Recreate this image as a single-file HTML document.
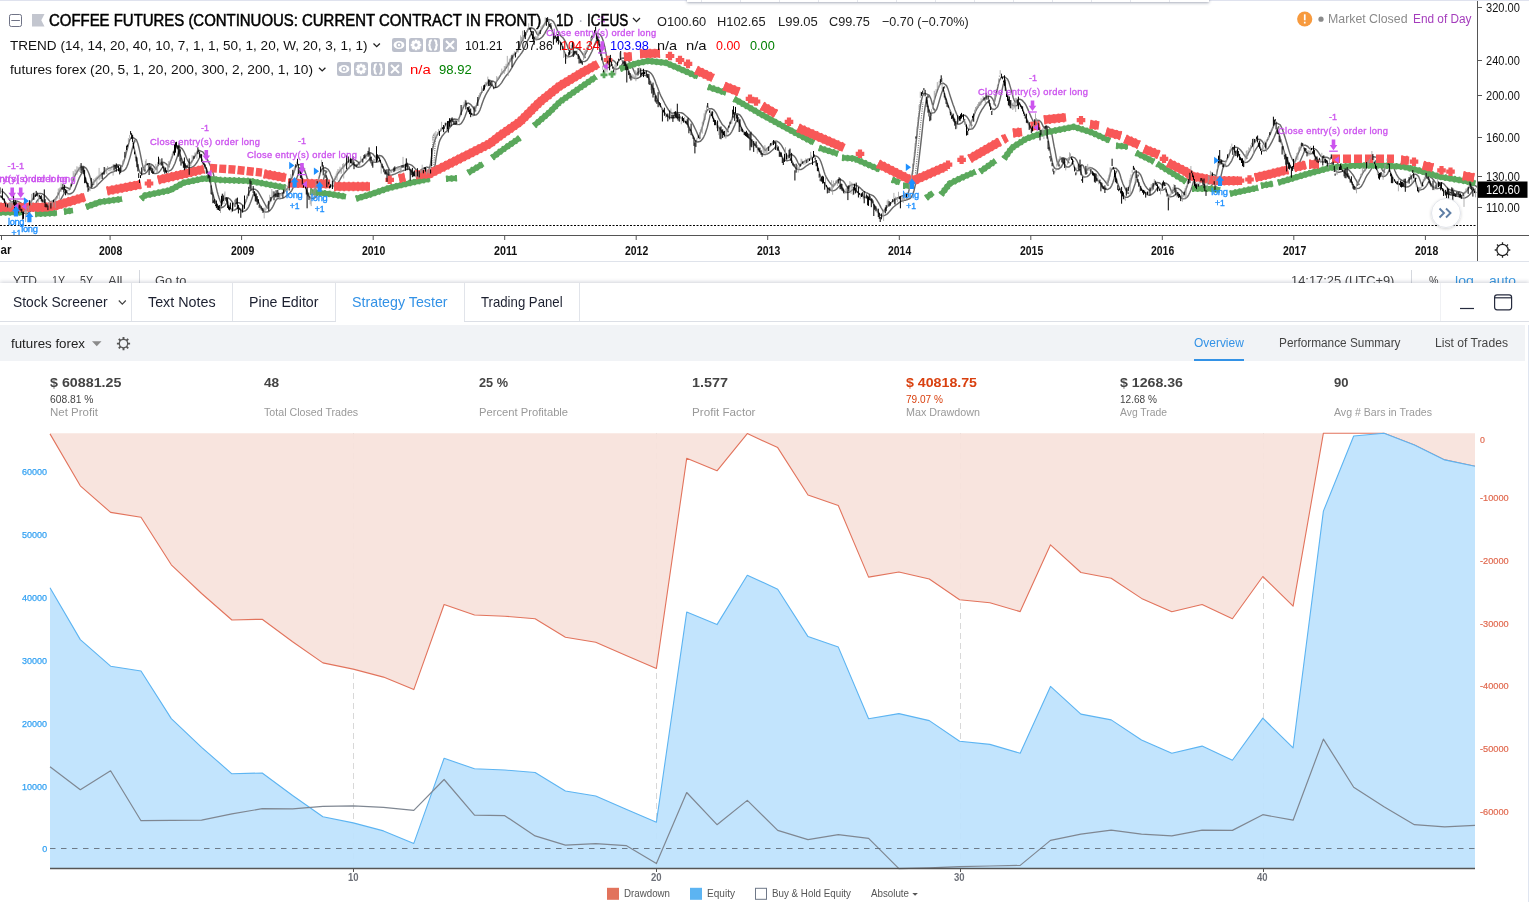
<!DOCTYPE html>
<html><head><meta charset="utf-8"><title>Coffee Futures - Strategy Tester</title>
<style>
html,body{margin:0;padding:0;background:#fff;}
body{width:1529px;height:902px;overflow:hidden;position:relative;font-family:"Liberation Sans", sans-serif;}
.t{position:absolute;white-space:pre;display:block;}
#top{position:absolute;left:0;top:0;width:1529px;height:283px;overflow:hidden;background:#fff;}
#topline{position:absolute;left:0;top:0;width:1529px;height:1px;background:#dfe2ee;}
#topbox{position:absolute;left:687px;top:-6px;width:522px;height:8px;background:#fff;box-shadow:0 1px 3px rgba(60,70,100,.45);}
#topbox i{position:absolute;top:0;width:1px;height:8px;background:#e4e6ec;}
#panel{position:absolute;left:0;top:283px;width:1529px;height:619px;background:#fff;box-shadow:0 -1px 4px rgba(40,50,80,.22);}
#tabs{position:absolute;left:0;top:0;width:1529px;height:38px;border-bottom:1px solid #dcdfe6;}
#tabs b{position:absolute;top:0;height:38px;width:1px;background:#e1e4ea;}
#act{position:absolute;left:336px;top:0;width:128px;height:40px;background:#fff;}
#hdr{position:absolute;left:0;top:42px;width:1525px;height:36px;background:#f1f3f6;}
#ovl{position:absolute;left:1194px;top:76px;width:50px;height:2px;background:#3392e6;}
#redge{position:absolute;left:1528px;top:42px;width:1px;height:577px;background:#dfe5f0;}
</style></head><body>
<div id="top">
<svg id="topsvg" width="1529" height="283" viewBox="0 0 1529 283" style="position:absolute;left:0;top:0" font-family='"Liberation Sans", sans-serif' font-weight="400">
<defs><clipPath id="cp"><rect x="0" y="0" width="1477" height="235"/></clipPath></defs>
<g clip-path="url(#cp)">
<path d="M0 225.5H1477" stroke="#000" stroke-width="1" stroke-dasharray="2 1.5"/>
<path d="M1.6 191.3L2.9 191.8L4.1 192.7L5.4 194L6.6 195.4L7.7 196.9L8.7 198.6L9.7 200.2L10.7 201.4L11.4 202L12 202.1L12.4 202L12.9 201.6L13.6 201.2L14.6 200.9L15.8 201L17.1 201.3L18.5 201.7L19.8 202.3L21.1 203.1L22.3 204.2L23.5 205.5L24.5 206.8L25.5 208L26.4 209L27 209.2L27.1 208.8L27.2 208.3L27.5 207.7L28.1 206.9L28.9 205.7L29.8 204.2L30.8 202.4L31.7 200.6L32.8 198.7L33.8 197.2L34.9 196L36.1 194.9L37.4 194L38.9 193.5L40.6 193.4L42.4 193.9L43.9 194.9L45.3 196L46.4 197.2L47.5 198.6L48.6 199.8L49.5 200.9L50.4 201.8L51.1 202.2L51.6 202.1L51.9 201.8L52.3 201.4L52.9 200.9L53.6 200.4L54.4 199.8L55.2 199L56 198L56.9 196.8L57.8 195.1L58.7 193.3L59.7 191.2L60.8 189.5L62 188.3L63.5 187.4L65.3 187.1L67.2 187.7L68.6 188.5L69.5 189.2L69.9 189.2L69.9 188.9L70.1 188.2L70.8 186.8L71.7 184.4L72.6 181.8L73.6 179.1L74.6 176.5L75.6 174.3L76.7 172.5L77.7 170.9L78.8 169.3L80 167.8L81.5 166.5L83.9 166.5L86.3 168.3L87.8 171L89 173.7L90 176.8L91 180.1L92 182.9L92.9 184.4L93.6 184.5L93.7 183.9L93.5 183.1L93.7 182.4L94.3 181.6L95.2 180.5L96.1 179.5L97.1 178.5L98.1 177.5L99.1 176.5L100.1 175.5L101.2 174.6L102.1 173.7L103.1 172.8L104.2 171.7L105.2 170.7L106.3 169.9L107.4 169L108.6 168.4L109.7 168L110.8 167.7L111.8 167.2L112.8 166.7L113.8 166.1L114.9 165.7L116 165.3L117.4 164.9L118.7 165L120.2 165.3L121.4 165.9L122 166.4L122.1 166.3L122.2 165.7L122.8 164.2L123.6 161.9L124.6 158.9L125.5 155.6L126.5 152L127.5 148.3L128.5 144.4L129.5 140.4L130.7 138.1L132.8 137.3L136.5 139.9L138 144L139.1 148.3L140.1 152.9L141.1 157.8L142.1 162.9L143.1 167.3L144.1 170L144.9 171.2L145.3 170.4L144.4 168.8L144.3 167.7L145.1 166L146.1 164.7L147.6 163.9L149.4 163.7L151.5 164.4L153.2 165.6L154.4 167.2L155.4 168.6L156.2 169.3L156.5 169L156.4 168.5L156.5 168L157.1 166.9L158 165.5L159 164.1L160.3 162.9L161.9 162.2L164 162.4L165.8 163.5L167.2 165L168.3 166.2L168.9 166.8L169 166.4L168.7 165.9L169 165.1L169.8 163.3L170.6 161.1L171.6 158.4L172.6 155.8L173.6 152.8L174.6 149.7L175.7 147.8L177.3 146.9L179.9 147L182.3 148.9L183.8 151.3L184.9 153.8L186 156.4L187 159L187.9 160.9L188.9 162.4L189.7 163.2L190.4 163.5L190.8 163.4L190.9 163L191 162.5L191.4 161.9L192.1 161.1L192.9 159.8L193.8 158.1L194.8 156.5L195.8 154.7L196.9 152.8L198.2 151.3L200.2 150.8L202.8 151.9L204.5 154.2L205.8 156.4L206.9 158.6L207.9 160.6L208.9 162.7L210 165L211 167.2L212 169.5L213.1 172.9L214.1 177.1L215.1 181.8L216.1 186.8L217.1 191.2L218.1 194.9L219.1 198L220.1 200.8L221 203L221.8 204L222.4 203.8L222.3 203L221.9 202.3L222.3 201.5L223.1 200L224.2 198.6L225.7 197.7L227.8 197.7L229.9 199L231.5 200.9L232.7 202.6L233.7 204.3L234.6 205.9L235.1 206.2L234.9 205.3L234.9 204.1L235.7 203.2L237.1 202.6L238.8 202.7L240.6 203.5L242.1 204.7L243.2 205.9L244 206.7L244.3 206.7L244.1 206.1L244.2 205.4L244.8 203.9L245.7 201.8L246.6 199.3L247.6 196.6L248.6 193.5L249.7 191.3L250.9 189.9L252.5 189.1L254.8 189.2L257 190.5L258.5 192.3L259.7 194.3L260.8 196.3L261.9 198.3L262.9 200.3L263.9 202.2L264.9 204L265.9 205.8L266.8 207.5L267.5 208.1L267.8 207.7L267.5 207L267.5 206.3L268 205.3L268.8 203.9L269.7 202L270.7 199.8L271.7 197.8L272.9 196.4L274.1 195.4L275.4 194.6L276.7 194.1L278.1 193.8L279.3 193.7L280.4 193.7L281.3 193.6L282 193.2L282.7 192.8L283.5 192.2L284.4 191.3L285.3 190.5L286.1 189.8L287 189L287.8 187.6L288.7 185.8L289.6 183.6L290.6 181.2L291.6 178.6L292.6 175.9L293.5 173.1L294.6 170.3L295.6 167.3L296.8 165.4L298.6 164.4L301.7 165.3L303.7 168.2L305 171.5L306 174.5L307 177.5L308.1 180.3L309 182.9L310 185.7L311 188.3L312 190.9L313 193.4L313.8 194.8L314.4 194.7L313.9 193.7L313.4 192.8L313.9 191.5L314.7 189.6L315.6 187.6L316.6 185.4L317.6 182.7L318.5 179.6L319.5 176L320.5 172.3L321.6 169.8L322.9 168.3L325.1 167.6L328.1 169.3L329.8 172.1L330.9 175L332 177.6L333 180.1L333.9 181.7L334.6 182.3L334.8 181.8L334.3 180.9L334.3 180.3L335 178.9L335.8 177.3L336.8 175.6L337.8 173.7L338.8 172.2L339.9 171.1L340.9 169.8L341.9 168.5L342.9 167.3L344 166.1L345 165L346 163.7L347.1 162.7L348.1 161.9L349.3 160.8L350.5 159.8L352 159.3L353.8 159.4L355.5 160.1L356.9 161.1L357.9 161.8L358.8 162.3L359.4 162.5L359.8 162.3L360.2 161.9L360.7 161.4L361.4 160.7L362.2 159.8L363.1 158.8L364.1 157.8L365.1 156.8L366.1 155.8L367.1 154.6L368.5 153.2L370.4 152.7L372.7 153.8L374.3 155.9L375.4 157.4L376.2 158L376.6 157.8L376.7 157.4L377.1 156.9L378 156L379.5 155.5L381.5 155.9L383.3 157.6L384.7 159.7L385.9 162L386.9 164.4L387.9 166.6L388.9 168.6L389.8 170L390.6 170.7L391.2 170.9L391.6 170.7L391.9 170.3L392.4 169.7L393.1 169.5L394 169.2L394.9 168.8L395.8 168.2L396.8 167.7L397.9 167.3L399 166.9L400 166.6L401 166.3L402 166L403 165.6L404 165.2L405 164.9L406.1 164.5L407.4 164.2L408.8 164.1L410.4 164.6L411.9 165.4L413.2 166.5L414.4 167.8L415.5 169.1L416.5 170.3L417.4 171.2L418.1 171.6L418.6 171.5L419 171.1L419.4 170.9L420 170.5L420.8 170L421.7 169.4L422.7 168.8L423.7 168.2L424.9 167.7L426.2 167.4L427.5 167.3L428.9 167.5L429.7 167.7L429.4 168.3L429.7 168.1L430.5 163.7L431.5 156.9L432.4 150.4L433.4 145.4L434.5 141.4L435.5 138.4L436.5 136.2L437.6 134.3L438.7 132.8L439.8 131.4L440.9 130.1L442 129L443 128L444 127L445 125.9L446 124.6L447 123.4L448.1 122.2L449.2 121.2L450.4 120.4L451.6 119.8L453 119.2L454.3 119L455.8 119.2L457 119.4L457.9 119.6L458.3 119.9L458.5 119.5L459 118.4L459.7 116.6L460.6 114.4L461.6 111.8L462.6 109.2L463.6 106.7L464.7 104.5L466.2 103.3L468.5 103.1L470.9 104.7L472.5 106.7L473.7 108.5L474.7 110.1L475.4 111L475.7 110.8L475.1 110.1L475.1 109.3L475.7 107.6L476.6 105.1L477.6 102.3L478.6 99.4L479.6 96.9L480.6 94.5L481.6 92.3L482.7 90.4L483.7 88.7L484.7 87L485.8 85.2L486.8 83.7L488 82.2L489.3 81.2L491.1 80.9L493 81.1L494.5 82L495.5 82.9L495.9 82.8L496.1 82.4L496.4 81.7L497.1 80.7L497.9 79.5L498.9 78.1L499.8 76.5L500.8 74.9L501.8 73.4L502.9 72.1L503.9 71L504.9 69.7L505.8 68.3L506.8 66.8L507.8 65.2L508.7 63.4L509.7 61.7L510.7 59.9L511.7 58.2L512.8 56.7L513.8 55.1L514.9 54L515.9 52.7L516.9 51.4L517.8 50L518.7 48.6L519.7 46.5L520.6 44.1L521.6 41.8L522.6 39.7L523.7 37.9L524.7 36.1L525.7 34.2L526.7 32.1L527.8 29.8L529 28.3L531 27.7L533.8 28.7L535.5 30.8L536.7 33.3L537.7 34.8L538.4 35.1L538.7 35L538.7 34.5L538.8 33.8L539.2 33.2L540 32.1L540.8 30.6L541.8 28.8L542.7 27.1L543.7 25.5L544.8 23.6L545.8 21.9L547.1 20.4L548.7 19.5L551.2 19.9L553.4 21.6L554.8 24.2L555.9 26.7L557 29.5L557.9 31.7L558.9 33.2L559.8 34.4L560.7 35.7L561.7 36.7L562.7 37.5L563.7 38.8L564.8 40.5L565.9 42.5L567 45.1L568 47.9L569 50.4L569.9 52.3L570.7 52.9L570.9 52.4L570.3 51.5L570.4 50.7L571.2 48.9L572.4 47.8L574 47.6L575.8 47.9L577.5 48.5L579 49.3L580.4 50.6L581.6 52.2L582.7 54L583.7 55.6L584.6 57.2L585.2 57.5L584.9 56.8L584.5 56L585 54.7L585.8 53.1L586.7 51.2L587.6 49.2L588.6 46.8L589.6 44.4L590.6 41.9L591.6 39.6L592.6 37.5L593.7 35.2L595 33.7L597.1 33.1L600 34.4L601.8 37.1L603 40.3L604.1 44.2L605.1 48.7L606.1 54L607.1 59.3L608.1 62.8L609 64.9L609.7 64.7L609.2 62.9L608.9 61.3L609.7 60.2L611.4 59.9L613.5 60.5L615.2 62.1L616.4 63.9L617.2 64.9L617.5 64.7L617.3 64L617.4 63.3L618.1 62.1L619 60.5L620.1 59.3L621.5 58.4L623.2 58L625.1 58.5L626.8 59.4L628.3 60.5L629.6 62.1L630.8 63.9L631.9 66.1L633 68.7L634 71.3L634.9 73.2L635.7 74.3L636.4 74.3L636.8 73.9L637 73.7L637.3 73.3L637.8 72.8L638.6 71.9L639.6 71.1L640.8 70.6L642.2 70.4L643.6 70.4L644.9 70.6L646.1 70.9L647.4 71L648.7 71.6L650.1 72.6L651.5 73.8L652.7 75.7L653.9 78L655 80.6L656 83.4L657 86L658 88.5L659 91.2L660 93.8L661 96.1L662 98.1L663 100L663.9 101.8L664.9 103.8L665.9 105.6L666.9 107.3L667.9 109L668.8 110.4L669.7 111.5L670.6 112.3L671.4 113L672 113.2L672.6 113.1L673.2 113L673.9 113L674.7 112.8L675.6 112.7L676.6 112.5L677.7 112.5L678.8 112.6L680 112.6L681.3 112.7L682.6 113.2L684 114.2L685.2 115.2L686.3 116.3L687.4 117.3L688.4 118.2L689.5 119.2L690.6 120.6L691.7 122.2L692.8 124L693.9 126.1L694.9 128.2L696 130.5L697 132.8L698 135.3L698.9 137.6L699.7 138.4L699.8 137.7L699.1 136.7L699.1 135.7L699.8 134.2L700.6 132.2L701.6 129.5L702.5 126.4L703.5 122.7L704.5 118.5L705.5 114.3L706.5 111.3L707.7 109.6L709.1 108.8L711.6 108.6L714 110L715.6 112.1L716.8 114.2L717.9 116.5L718.9 118.7L719.9 120.5L720.9 122.1L721.8 123.7L722.8 125L723.7 125.8L724.7 126.8L725.7 128.2L726.7 129.6L727.6 131.3L728.2 131.8L727.9 131L727.5 130.2L727.9 128.9L728.7 127L729.6 124.8L730.6 122.6L731.6 120.1L732.7 118L733.8 116.1L735.1 114.4L737 113.8L739.7 114.8L741.5 117L742.8 119.3L743.9 121.6L744.9 123.9L745.9 126.1L746.9 127.9L747.9 129.4L748.8 130.5L749.7 131.7L750.6 132.7L751.6 133.7L752.5 134.6L753.5 135.6L754.5 136.5L755.6 137.6L756.6 139L757.7 140.2L758.7 141.6L759.7 143L760.7 144.1L761.7 145.5L762.7 146.9L763.7 148.4L764.6 149.7L765.4 150.4L765.8 150.1L766 149.7L766.2 149.3L766.8 148.7L767.5 148.1L768.4 147.3L769.3 146.6L770.2 145.7L771.1 144.8L772.1 143.5L773.2 142L774.7 141.2L776.7 141.2L778.8 142.3L780.4 143.9L781.7 145.7L782.8 147.6L783.9 149.5L784.9 151.6L785.9 153.5L786.8 155.4L787.7 156.4L788.3 156.6L788.6 156.1L788.8 155.6L789.4 155.1L790.6 154.6L792.3 154.8L794.1 156L795.6 157.9L796.8 160.1L797.9 162.5L798.8 164.3L799.7 165.3L800.3 165.5L800.6 165.1L800.7 164.7L801.1 164.2L801.7 163.6L802.5 162.9L803.4 162.1L804.4 161.4L805.5 160.8L806.6 160.1L807.7 159.5L808.7 159.1L809.8 158.7L810.8 158.2L811.8 157.8L812.7 157.4L814 156.6L815.7 155.9L817.8 156.9L819.6 159L820.9 161.7L822 164.9L823.1 168.5L824.1 171.8L825 174.5L826 176.6L827 178.3L827.9 180L828.9 181.4L829.8 182.6L830.7 183.8L831.7 184.9L832.5 185.9L833.2 186.3L833.6 186.2L833.7 185.8L833.9 185.3L834.5 184.6L835.2 183.7L836.1 182.7L837.1 181.4L838.5 180.1L840.3 179.5L842.7 180.6L844.5 182.5L845.7 184.6L846.7 186.6L847.7 187.9L848.4 188.3L848.7 188L848.6 187.5L848.9 186.8L849.6 186L850.6 185.3L852 184.7L853.5 184.5L855 184.9L856.5 185.5L857.9 186.2L859.1 187.1L860.3 188.1L861.3 189.1L862.4 190.1L863.4 191L864.3 191.7L865.2 192.2L866 192.7L866.9 193L867.8 193.3L868.8 193.8L869.8 194.3L870.8 194.8L871.8 195.1L873 195.6L874.3 196.7L875.5 198.1L876.7 199.8L877.8 201.7L878.9 203.5L879.9 205.4L880.9 207.3L881.9 209L882.8 210.7L883.6 211.6L884.1 211.6L884.2 211.1L884.3 210.5L884.6 209.9L885.3 209.2L886.1 208.1L887 207L888 205.8L889.1 204.7L890.1 203.7L891.1 202.7L892.2 201.8L893.3 200.9L894.3 200.2L895.4 199.5L896.4 198.8L897.4 197.9L898.6 197.3L899.7 196.7L900.9 196.4L902.1 196L903.1 195.7L904.2 195.7L905.1 195.3L906.1 194.9L906.8 194.7L907.3 194.6L907.9 193.6L908.6 191.7L909.5 188.6L910.5 184.6L911.4 179.3L912.4 172.7L913.4 165.3L914.4 157.1L915.4 148.4L916.4 139.6L917.4 130.5L918.4 121L919.4 112.5L920.4 105.8L921.4 100.6L922.5 96.1L923.6 93.9L925.2 93.3L929.1 95.1L930.9 98.9L932 102.8L933.1 107.2L934 109.8L934.6 110L933.2 108L932.8 106.3L933.6 103.3L934.5 99.9L935.5 96.4L936.5 93.2L937.5 90.2L938.6 87.5L939.7 84.9L941 83.6L943.6 83.3L946.5 85.6L947.9 88.7L949 92.1L950.1 95.7L951.1 98.8L952.1 101.8L953.1 104.7L954.1 107.3L955 109.9L956 112.4L957 114.8L958 117L958.9 119.1L959.8 120.4L960.3 120.4L960 119.3L959.7 118.5L960.3 117.5L961.4 116L962.9 115.1L965.2 115.4L967.3 117.3L968.8 119.6L969.9 122L970.9 124.5L971.7 125.7L971.8 125.1L971 124.1L971 123L971.7 121.3L972.6 118.9L973.6 116.2L974.6 113.6L975.6 111.3L976.6 109.2L977.7 107.4L978.7 105.8L979.8 104.2L980.8 102.6L981.9 101.3L982.9 100L984 98.8L985.1 97.8L986.5 96.9L988.2 96L990.6 96.6L992.6 98.8L993.8 101.5L994.9 104.6L995.6 105.8L995 104.7L994 103.5L994.6 100.9L995.5 97.3L996.5 93.1L997.5 88.5L998.5 83.9L999.5 80.4L1000.6 78.3L1002 77L1004.6 76.8L1007.5 79L1008.9 82.1L1010 85.9L1011.1 89.6L1012.1 93.4L1013.1 97.2L1014.1 100.1L1015 101.8L1015.7 102.1L1016.2 101.7L1016.4 101.2L1016.5 100.8L1017.1 100.2L1018.2 99.4L1019.7 99.2L1021.6 99.9L1023.2 101.4L1024.6 103L1025.8 104.9L1026.9 107.1L1028 109.6L1029 112L1030 114.3L1031 116.6L1032 118.8L1033 120.9L1033.9 123.2L1034.8 125L1035.3 125L1034.8 123.8L1034.6 122.8L1035.4 121L1036.9 120.1L1039.4 120.5L1041.4 122.6L1042.7 125.4L1043.7 127.3L1044.5 127.8L1044.9 127.4L1045.2 127L1046 126.8L1047.6 126.4L1049.5 127.8L1051 131L1052.1 135.4L1053.1 140.8L1054.1 146.4L1055.2 151.7L1056.1 156.8L1057.1 161.6L1058.1 164.8L1059 166.1L1059.5 165.7L1058.8 164.1L1058.3 163.1L1059 161.3L1059.9 159.5L1061.2 158.3L1063.1 157.8L1065.6 158.6L1067.2 160.2L1068.3 162.1L1068.9 162.7L1068.5 162.1L1068.3 161.2L1069.1 159.1L1070.2 157.5L1072.1 156.8L1074.8 157.9L1076.6 160.3L1077.8 162.8L1078.9 165.5L1079.7 167L1080.2 166.9L1080.4 166L1081.7 164.7L1083.4 165.9L1084.8 169.6L1085.8 172.4L1086.7 173.4L1087 172.9L1086.4 171.9L1086.5 171.1L1087.2 169.7L1088.3 168.5L1089.8 167.8L1091.7 167.9L1093.5 168.8L1095 169.8L1096.3 170.9L1097.5 172.1L1098.6 173.6L1099.6 175L1100.7 176.3L1101.6 177.4L1102.6 178.5L1103.6 179.6L1104.7 180.9L1105.7 182.2L1106.7 183.5L1107.5 184.9L1108.1 185.3L1107.8 184.7L1107.3 184L1107.8 182.7L1108.6 180.3L1109.5 176.8L1110.5 172.6L1111.6 169.6L1112.9 168.3L1115.8 168.1L1118.6 171L1120 174.5L1121 178.2L1122.1 181.4L1123 184L1124 186.2L1125 188.1L1125.9 189.8L1126.9 191.6L1127.7 193.1L1128.3 193.4L1127.8 192.4L1127.3 191.6L1127.8 190.2L1128.6 188L1129.6 185.3L1130.5 182.1L1131.5 178.7L1132.6 175.1L1133.7 172.8L1135.2 171.7L1138.2 172.1L1140.6 174.7L1141.9 177.7L1143 180.9L1144 183.4L1145 185.3L1145.9 186.8L1146.8 187.9L1147.7 188.9L1148.6 189.8L1149.4 190.6L1149.9 190.7L1150.2 190.4L1150.3 190L1150.6 189.5L1151.2 188.6L1152 187.4L1152.9 186L1154 184.4L1155.2 183.3L1156.8 182.5L1158.9 182.7L1160.7 183.7L1161.9 185.1L1162.7 185.7L1162.9 185.3L1163.2 184.8L1164.1 183.6L1165.8 183.1L1168.1 184.5L1169.7 186.9L1170.9 190L1171.8 192.2L1172.6 193.1L1172.9 192.6L1172.6 191.7L1172.7 190.9L1173.4 189.8L1174.5 188.8L1176.1 188.2L1178 188.4L1179.8 189.5L1181.3 190.9L1182.4 192.2L1183.5 193.3L1184.3 194.3L1184.7 194.5L1184.4 193.9L1184.3 193.2L1184.9 191.9L1185.7 190L1186.6 187.8L1187.5 184.9L1188.5 181.4L1189.5 177.5L1190.6 175.1L1192 174L1194.9 173.9L1197.4 176.4L1198.7 179.4L1199.7 181.1L1200.6 181.9L1201 181.8L1201 181.4L1201.2 180.7L1202 179.6L1203.4 179.1L1205.6 179.7L1207.2 181.3L1208.3 183.3L1209 183.9L1208.6 183.3L1208.3 182.5L1208.8 181L1209.7 178.7L1210.8 176L1212.3 174.5L1214.7 174.9L1216.4 177.2L1216.5 177.7L1215.9 177L1216.6 174.2L1217.5 169.5L1218.5 165.6L1219.6 163.1L1220.8 161.6L1222.3 161L1224.1 161.4L1225.3 161.7L1225.8 161.5L1226.3 160.7L1226.9 159.5L1227.7 157.8L1228.7 155.7L1229.6 153.3L1230.7 150.7L1231.8 148.9L1233.1 147.8L1234.8 147.2L1236.9 147.4L1238.8 148.5L1240.3 149.8L1241.5 151.3L1242.7 152.8L1243.7 154.3L1244.7 155.8L1245.7 156.9L1246.5 158L1246.9 158.3L1246.7 157.6L1246.6 156.8L1247 155.8L1247.8 154.4L1248.7 152.5L1249.7 150.6L1250.7 148.5L1251.7 146.8L1252.7 145.1L1253.8 143.7L1254.8 142.1L1256 140.3L1257.6 139.3L1260.1 139.4L1262.3 141.4L1263.7 143.7L1264.7 145.9L1265.4 146.7L1265.5 146.1L1265 145.3L1265.2 144.3L1265.9 143L1266.8 141.3L1267.7 139.5L1268.7 137.6L1269.6 135.4L1270.6 133.1L1271.6 130.8L1272.6 128.4L1273.7 125.7L1274.9 123.8L1277 123.1L1280.2 124.8L1281.8 128L1283 131.1L1284 134.3L1285.1 137.6L1286.1 140.9L1287.1 144.2L1288.1 147.7L1289.1 151.1L1290.1 154.2L1291.1 156.8L1292 158.8L1293 160.7L1293.9 162.5L1294.8 164.2L1295.4 164.5L1295.1 163.5L1294.5 162.7L1294.9 161.5L1295.7 159.5L1296.6 157.2L1297.6 155L1298.6 152.8L1299.6 150.2L1300.7 147.8L1301.8 146.1L1303.4 145.2L1305.7 145.3L1307.8 146.5L1309.1 148L1310.2 148.9L1310.8 149.1L1311.3 149.1L1312 148.7L1312.9 148.4L1314.3 148.6L1316 149.6L1317.4 151L1318.6 152.7L1319.7 154.4L1320.7 155.9L1321.6 156.8L1322.3 157.2L1323 157.3L1323.6 157.4L1324.2 157.3L1325.1 157.1L1326.2 157.2L1327.5 157.5L1328.7 158.2L1329.6 159.1L1330.1 159.2L1330.2 158.7L1330.9 157.8L1332.3 156.4L1334.9 157L1336.7 159.8L1337.9 163.7L1339 166.8L1339.9 168.6L1340.6 168.8L1340.7 168L1340.8 167L1341.5 166.5L1342.7 166.5L1344.2 166.7L1345.6 167.3L1347 168.2L1348.3 169.4L1349.5 170.6L1350.5 171.8L1351.6 173.1L1352.7 174.5L1353.8 176.2L1354.8 178.1L1355.9 179.9L1356.9 181.7L1357.8 183.2L1358.6 184.4L1359 184.4L1358.4 183.5L1358.3 182.7L1358.9 181.1L1359.7 179.2L1360.7 177.2L1361.7 175.1L1362.7 173.2L1363.7 171.6L1364.8 170.3L1365.8 168.8L1366.7 167.1L1367.7 165.3L1368.7 163.5L1369.7 161.7L1370.8 159.8L1371.9 157.7L1373.7 156.7L1376.7 157.4L1378.7 160.2L1379.9 163.4L1381 166.7L1382 169.3L1382.9 170.9L1383.8 171.8L1384.4 172.2L1384.6 172.1L1384 171.4L1384.1 170.4L1384.8 168.5L1385.8 166L1387 164.1L1389 163.3L1392 164.7L1393.8 167.7L1394.9 170.8L1396 173.3L1396.9 175.2L1397.9 176.7L1398.8 177.9L1399.7 178.8L1400.5 179.4L1401.3 180L1402.2 180.5L1403 181L1403.9 181.3L1404.8 181.7L1405.6 182L1406.4 182.2L1407 182.2L1407.4 182.1L1407.8 181.6L1408.3 180.8L1409.1 179.8L1410 178.7L1410.9 177.3L1412 175.5L1413.6 174.2L1416.2 174.3L1418.6 176.6L1419.9 179.8L1421 183L1421.9 185.3L1422.7 186.1L1422.9 185.5L1422.3 184.4L1422.3 183.6L1422.9 182.3L1423.8 180.6L1424.9 178.7L1426.1 177.3L1427.7 176.6L1429.9 176.8L1432 178L1433.4 179.7L1434.6 181.5L1435.6 182.7L1436.4 183.6L1437.2 184L1437.7 183.9L1438.2 183.8L1438.7 183.5L1439.5 183.3L1440.7 182.8L1442.3 183L1444 184L1445.3 185.6L1446.5 187.1L1447.5 188.1L1448.4 188.9L1449.2 189.4L1450 189.9L1450.8 190L1451.6 190.1L1452.4 190.3L1453.3 190.5L1454.3 190.5L1455.4 190.9L1456.4 191.2L1457.4 191.5L1458.3 191.6L1459.3 191.8L1460.4 192.1L1461.5 192.4L1462.5 192.9L1463.4 193.3L1464 193.3L1464.4 193.1L1464.9 192.6L1465.5 192L1466.3 191.3L1467.1 190.4L1468 189.1L1469 187.6L1470.1 186.2L1471.5 185.5L1473.4 185.1L1475.4 185.7L1477 186.9L1478.2 188.2L1479.3 189.2" stroke="#686868" stroke-width="1.45" fill="none" stroke-linejoin="round"/>
<path d="M0 195.8L0.7 196.1L1.5 196.8L2.2 197.6L3 198.6L3.9 199.9L4.9 201.4L5.9 203.1L6.9 204.5L8.2 205.5L9.6 206.3L11.2 206.6L12.7 206.4L14 206L15 205.7L15.8 205.8L16.5 206L17.1 206.3L17.8 206.7L18.5 207.2L19.3 208L20.1 208.9L21.1 210.1L22.1 211.3L23.2 212.6L24.6 213.4L26.5 213.5L28.4 212.9L30.1 211.7L31.5 210.4L32.7 208.7L33.8 206.9L34.8 204.9L35.9 203L36.8 201.2L37.8 199.9L38.7 199L39.5 198.4L40.2 198L40.7 198L41 198.2L41.2 198.6L41.7 199.2L42.3 199.8L43.2 200.7L44.1 201.9L45 203L46.1 204.2L47.2 205.4L48.5 206.2L50 206.7L51.7 206.6L53.3 206L54.7 205.3L56 204.5L57.2 203.7L58.4 202.6L59.6 201.3L60.7 199.6L61.8 197.7L62.9 195.7L63.9 193.7L64.8 192.2L65.6 191.5L66.1 191.4L66.3 191.8L66.4 192.4L67 193L68.1 193.8L69.7 194L71.7 193.3L73.5 191.7L74.8 189.4L75.9 186.6L77 183.7L78 180.9L79 178.4L80 176.3L80.9 174.7L81.9 173.3L82.8 172L83.6 170.9L84.1 170.6L83.7 171.3L83.3 172.1L83.8 173.6L84.6 175.8L85.6 178.6L86.6 181.9L87.6 184.8L88.7 186.7L90 187.7L91.9 188.3L94.1 187.9L95.9 186.6L97.3 185.4L98.4 184L99.5 182.9L100.5 181.9L101.5 180.9L102.5 179.9L103.5 179L104.4 178.1L105.5 177.2L106.5 176.2L107.4 175.2L108.4 174.3L109.3 173.6L110.2 173L111 172.5L111.9 172.3L112.8 172.1L113.8 171.5L114.8 171L115.8 170.5L116.7 170.1L117.6 169.9L118.2 169.7L118.9 169.8L119.4 170L120.2 170.5L121.6 171.2L123.5 170.9L125.4 169.3L126.8 166.8L128 163.9L129 160.6L130.1 157.1L131.1 153.4L132.1 149.5L133.1 145.7L134.1 142L134.9 140.4L134.8 141.7L133.1 143.3L133.6 146L134.5 149.8L135.5 154.1L136.5 158.9L137.5 164L138.5 168.5L139.5 171.5L140.7 173.4L142.3 174.1L145.2 173.5L147.3 171.4L148.5 169.3L149.5 168.2L150 168L150.2 168.4L150.1 169L150.4 169.6L151.2 170.7L152.2 172.2L153.4 173.2L155.1 173.6L157.2 173.3L159.1 172.1L160.5 170.4L161.6 168.7L162.6 167.3L163.3 166.6L163.7 166.7L163.6 167.2L163.8 167.8L164.4 168.8L165.3 170L166.7 171L168.6 171.2L170.9 170.2L172.6 168.3L173.8 165.8L175 163.2L176 160.3L177 157.5L178 154.5L179 151.6L179.9 150.3L180.3 150.6L179.7 151.7L179.3 152.7L179.8 154.1L180.7 156.1L181.6 158.5L182.6 161L183.7 163.1L184.7 164.9L185.9 166.1L187.2 167.1L188.8 167.8L190.7 167.8L192.6 167L194.2 165.8L195.5 164.4L196.7 162.8L197.8 160.8L198.8 159L199.8 157.3L200.7 155.6L201.4 154.8L201.4 155.4L200.8 156.3L201.1 157.5L201.8 159.1L202.7 161L203.7 162.9L204.7 164.9L205.6 167.1L206.6 169.1L207.6 171.3L208.5 174.4L209.5 178.3L210.5 182.9L211.5 187.9L212.5 192.3L213.5 196.1L214.5 199.4L215.5 202.3L216.6 204.9L217.8 206.5L219.2 207.4L221.3 207.7L223.7 206.8L225.3 205.2L226.5 203.4L227.4 202.1L227.9 202L227.8 202.5L227.7 203.2L228.1 204.3L228.9 205.6L229.9 207.2L231 209.1L232.5 210.2L234.7 210.1L236.7 208.6L237.9 207.4L238.5 207.2L238.8 207.5L239 208L239.5 208.7L240.4 209.7L241.6 210.8L243.3 211.4L245.5 210.7L247.4 208.9L248.8 206.6L249.9 204L251 201.2L252 198.4L253 195.4L253.9 193.4L254.7 192.7L255.1 193.2L254.8 194L254.6 194.6L255.1 195.7L255.9 197.1L256.8 198.8L257.7 200.7L258.7 202.6L259.7 204.5L260.7 206.2L261.7 208.2L262.8 210.2L264.1 211.5L265.8 212.1L268.1 211.8L270.1 210.4L271.6 208.6L272.8 206.6L273.9 204.4L274.9 202.1L275.9 200.2L276.7 199.2L277.5 198.7L278.2 198.5L278.9 198.5L279.5 198.4L280.3 198.4L281.2 198.4L282.3 198.3L283.6 197.8L284.9 197L286.1 196.2L287.2 195.2L288.3 194.2L289.5 193.3L290.6 192.1L291.8 190.3L292.9 188.2L294 185.7L295 183.1L296 180.4L297 177.6L298.1 174.8L299 172L300 169.2L300.8 168L301 168.5L299.9 169.7L299.9 171.1L300.6 173.6L301.6 176.3L302.6 179.3L303.5 181.9L304.6 184.5L305.6 187.4L306.6 190L307.6 192.6L308.6 195.4L309.8 197.3L311.2 198.3L313.7 198.5L316.2 196.8L317.7 194.5L318.9 192.1L320 189.7L321 187.3L322 184.4L323.1 181.1L324.1 177.4L325.1 173.8L326 171.7L326.7 171.2L326.5 172.2L325.5 173.4L325.8 174.9L326.7 177.2L327.6 179.6L328.6 182.3L329.7 184.2L331 185.5L332.8 186.1L335.3 185.6L337.3 184.1L338.6 182L339.8 180L340.8 178.1L341.8 176.3L342.8 174.9L343.7 173.9L344.7 172.8L345.7 171.5L346.7 170.3L347.6 169.2L348.6 168.1L349.6 166.9L350.5 166.1L351.5 165.4L352.3 164.5L353.1 163.8L353.6 163.8L353.8 164.2L354.1 164.7L354.7 165.4L355.7 166L356.8 166.7L358.2 167.2L359.8 167.1L361.4 166.6L362.9 165.7L364.2 164.6L365.4 163.4L366.5 162.3L367.5 161.2L368.5 160.2L369.5 159.1L370.5 158L371.1 157.2L371.2 157.4L370.9 158.2L371.3 159.6L372.2 160.9L373.4 161.9L375 162.3L376.9 162.2L378.5 161.5L379.6 160.5L380.1 160.2L380.1 160.5L380.3 161.3L380.9 162.7L381.7 164.4L382.7 166.6L383.7 168.8L384.7 170.9L385.8 172.6L387 173.8L388.4 174.8L390 175.3L391.7 175.1L393.2 174.5L394.5 174.1L395.6 173.7L396.7 173.2L397.8 172.6L398.8 172.1L399.7 171.7L400.6 171.4L401.6 171.1L402.6 170.9L403.6 170.5L404.6 170.1L405.6 169.8L406.6 169.4L407.5 169.1L408.2 168.9L408.8 168.9L409.2 169.3L409.7 169.7L410.4 170.4L411.2 171.3L412.1 172.4L413.1 173.6L414.2 174.8L415.5 175.6L417 176L418.6 175.9L420.2 175.6L421.6 175L422.8 174.3L423.9 173.6L424.9 173L425.9 172.5L426.7 172.1L427.4 172L428.1 172.1L428.7 172.3L429.9 172.4L432.2 172.3L433.9 170.3L435.1 165.1L436.1 157.9L437.2 151.3L438.2 146.3L439.1 142.6L440.1 139.8L441.1 137.9L442 136.3L442.9 135.2L443.8 134.1L444.7 133L445.6 132.1L446.6 131.2L447.6 130.3L448.6 129.1L449.6 127.7L450.6 126.5L451.5 125.5L452.4 124.8L453.2 124.2L454 123.9L454.6 123.7L455.3 123.7L455.8 124L456.6 124.2L457.7 124.4L459.3 124.6L461.1 123.6L462.6 121.5L463.9 119.1L465 116.5L466 113.7L467 111.1L468 108.7L468.9 107L469.4 106.8L469.1 107.9L468.7 108.9L469.1 110L469.9 111.4L470.9 113.1L472.2 114.6L473.9 115.3L476.5 114.7L478.5 112.7L479.9 110.1L481 107.1L482 104.1L483 101.2L484 98.6L485 96.4L486 94.3L486.9 92.6L487.9 91L488.9 89.4L489.8 87.8L490.8 86.4L491.6 85.4L492.3 85L492.5 85.4L492.6 85.9L493.1 86.6L494.1 87.5L495.7 87.6L497.5 87L499.2 85.6L500.5 84.1L501.7 82.6L502.7 80.9L503.8 79.2L504.8 77.6L505.8 76.2L506.7 75L507.7 73.9L508.7 72.6L509.8 71.1L510.8 69.5L511.8 67.8L512.9 65.9L513.9 64.1L514.9 62.3L515.9 60.7L516.8 59.3L517.8 57.9L518.7 56.8L519.7 55.6L520.7 54.2L521.8 52.7L522.9 51L523.9 48.8L525 46.2L526 43.8L527 41.8L527.9 40.1L528.9 38.3L529.9 36.4L530.9 34.4L531.8 32.3L532.6 31.5L532.6 32.2L531.8 33.2L532.1 34.2L532.9 36.3L533.9 37.8L535.2 38.8L536.9 39.5L538.9 39.3L540.8 38.2L542.4 36.8L543.6 35.2L544.8 33.3L545.8 31.4L546.9 29.6L547.9 27.9L548.8 26.1L549.8 24.7L550.5 23.7L550.9 23.8L550.4 24.6L550.2 25.3L550.8 26.9L551.7 29L552.6 31.6L553.7 33.8L554.7 35.5L555.8 37L556.9 38.5L557.9 39.7L558.9 40.5L559.9 41.7L560.8 43.1L561.7 44.8L562.6 47.1L563.6 49.8L564.6 52.4L565.7 54.6L566.9 56L568.7 56.7L571.3 56.2L573.2 54.6L574.4 52.6L575.2 51.7L575.6 52.1L575.8 52.7L576.1 53.1L576.6 53.4L577.2 54.2L578 55.4L578.9 56.8L579.9 58.4L581 60.3L582.4 61.4L584.7 61.6L587.1 60.1L588.6 57.9L589.8 55.7L590.9 53.5L592 51.3L593 48.8L594 46.3L595 43.8L596 41.6L597 39.6L597.9 37.6L598.6 36.9L598.5 37.7L597.6 38.5L597.8 39.8L598.6 42.1L599.5 45.6L600.5 49.9L601.5 55.1L602.5 60.4L603.5 64.1L604.6 66.7L605.9 67.7L608.4 67.6L610.7 65.7L611.9 64.6L612.2 64.6L612.1 65.1L612.4 66L613.2 67.5L614.4 68.8L616.1 69.3L618.3 68.6L620.2 67.2L621.5 65.5L622.6 63.7L623.5 62.7L624.1 62.4L624.4 62.7L624.5 63.2L624.8 63.7L625.3 64.3L626 65.3L626.8 66.6L627.7 68.4L628.6 70.8L629.6 73.4L630.7 75.5L631.9 77.1L633.2 77.9L634.8 78.3L636.6 78.5L638.3 78L639.8 77.1L641 76.1L642 75.3L642.8 75L643.4 75.1L644 75.2L644.7 75.4L645.5 75.6L646.2 75.7L646.9 76L647.5 76.5L648.1 77.2L648.9 78.5L649.7 80.3L650.6 82.6L651.6 85.2L652.6 87.8L653.6 90.3L654.6 93L655.6 95.6L656.6 98L657.6 100.1L658.6 102.1L659.7 104L660.7 106L661.7 107.9L662.7 109.6L663.7 111.5L664.8 113.1L665.9 114.3L667 115.6L668.2 116.7L669.6 117.3L671 117.6L672.4 117.7L673.7 117.8L674.9 117.6L676 117.5L677 117.3L677.9 117.3L678.8 117.4L679.6 117.4L680.3 117.4L681 117.7L681.6 118.4L682.4 119.1L683.3 120L684.2 120.9L685.2 121.7L686.1 122.6L687 123.7L687.9 125L688.8 126.6L689.7 128.5L690.7 130.4L691.6 132.5L692.6 134.8L693.6 137.3L694.7 139.9L695.9 141.4L697.8 142L700.5 141.3L702.5 139.1L703.8 136.8L705 134.3L706 131.3L707.1 127.9L708.1 124L709.1 119.8L710.1 115.6L711.1 113L711.9 111.9L712.5 112.2L712 113.4L711.6 114.1L712 115.3L712.8 116.8L713.7 118.9L714.7 120.9L715.7 122.8L716.7 124.5L717.8 126.3L718.8 127.7L719.9 128.8L720.9 129.9L721.9 131.1L722.9 132.5L724 134.5L725.4 135.7L727.7 135.8L730.1 134.2L731.7 131.8L732.9 129.4L734 126.9L735 124.6L736 122.1L736.9 120.1L737.8 118.6L738.5 117.7L738.6 118.4L737.9 119.3L738.1 120.3L738.8 121.9L739.7 123.9L740.7 126.1L741.7 128.3L742.7 130.2L743.7 131.8L744.8 133.2L745.9 134.6L747 135.8L748 136.9L749.1 137.9L750.1 138.9L751.1 139.8L752 140.9L753 142.1L753.9 143.3L754.9 144.6L755.9 145.9L756.9 147.1L757.9 148.4L758.9 149.8L759.9 151.3L761 152.9L762.2 154L763.8 154.5L765.6 154.5L767.4 153.9L768.8 153.1L770.1 152.1L771.2 151.2L772.3 150.3L773.4 149.2L774.5 148.2L775.5 146.8L776.4 145.6L776.9 145.4L776.9 146L776.8 146.6L777.2 147.4L777.9 148.8L778.8 150.3L779.7 152L780.7 153.9L781.7 155.8L782.8 157.9L783.9 159.4L785.3 160.3L787 160.7L788.8 160.4L790.2 159.8L791 159.4L791.3 159.5L791.5 160L792 161.1L792.8 162.7L793.7 164.9L794.8 166.9L795.9 168.3L797.3 169.2L799 169.6L800.9 169.5L802.5 168.8L803.9 167.8L805.1 166.9L806.2 166L807.2 165.4L808.1 164.8L809 164.2L809.9 163.7L810.9 163.4L811.8 163.1L812.8 162.6L813.8 162.2L814.9 161.7L815.6 161.1L815.9 160.7L815.8 161.3L816 162.1L816.7 164L817.6 166.7L818.5 170.1L819.5 173.4L820.6 176.2L821.6 178.4L822.6 180.4L823.7 182.3L824.7 183.9L825.8 185.3L826.9 186.7L827.9 187.9L829.1 189.3L830.4 190.2L832 190.8L833.9 190.6L835.7 189.8L837.1 188.6L838.4 187.3L839.5 186L840.5 184.9L841.1 184L841.3 184.2L840.9 185L841.1 186L841.9 187.5L842.9 189.3L843.9 191L845.2 192L846.9 192.5L849 192.3L850.7 191.3L852 190.2L853 189.5L853.6 189.2L854.1 189.3L854.6 189.7L855.1 190L855.7 190.5L856.5 191.1L857.3 191.9L858.3 192.7L859.2 193.7L860.2 194.6L861.3 195.5L862.4 196.2L863.6 196.8L864.7 197.3L865.8 197.6L866.8 198.1L867.8 198.7L868.8 199.1L869.8 199.4L870.6 199.8L871.3 200.4L872.1 201.4L872.9 202.8L873.8 204.3L874.7 206L875.7 207.8L876.7 209.6L877.7 211.4L878.8 213.3L880 214.8L881.5 215.6L883.4 215.8L885.3 215.1L887 214.1L888.3 212.9L889.5 211.5L890.6 210.2L891.6 209.1L892.5 208L893.5 207L894.5 206.2L895.4 205.4L896.3 204.6L897.3 204.1L898.2 203.4L899.2 202.7L900.2 201.8L901 201.4L901.9 201L902.7 200.8L903.5 200.6L904.5 200.3L905.4 200.3L906.5 199.9L907.5 199.5L908.8 199L910.3 198.4L911.7 196.5L913 193.8L914.1 190.2L915.1 185.8L916.2 180.3L917.2 173.5L918.2 166L919.2 157.7L920.2 149L921.2 140.1L922.2 131L923.2 121.5L924.2 113.1L925.2 106.4L926.2 101.4L927.1 97.2L928 95.6L928.4 96.8L926.5 99.1L926.7 101.1L927.6 104.5L928.5 108.8L929.6 111.8L931 113.3L934.4 112.6L936.8 109L938 105.2L939.1 101.5L940.1 97.9L941.1 94.6L942.1 91.7L943 89.3L943.9 87.1L944.6 86.8L944 88.1L943.1 89.1L943.7 91L944.6 93.9L945.5 97.3L946.5 100.3L947.5 103.4L948.5 106.3L949.5 109L950.6 111.5L951.6 114.2L952.6 116.6L953.6 118.9L954.7 121.3L955.8 123.1L957.3 124.2L959.6 124L961.9 122.8L963.3 121.3L964.2 119.8L964.7 119.5L964.4 120.2L964.3 121L964.8 122.3L965.7 124.4L966.7 127L967.9 128.7L969.8 129.4L972.6 128.7L974.6 126.3L975.9 123.7L977 120.9L978 118.1L979 115.4L980 113.2L981 111.3L981.9 109.6L982.9 108.3L983.8 106.8L984.8 105.3L985.7 104.1L986.7 103L987.6 102L988.5 101.3L989.1 100.9L989.4 100.6L989 101.1L989 102L989.8 104L990.7 107.1L992 109L994.6 109.5L997.6 106.7L999 102.9L1000.1 98.8L1001.1 94.3L1002.1 89.7L1003.1 85.1L1004.1 81.8L1005 80.2L1005.6 80.1L1005 81.6L1004.1 82.4L1004.7 84.3L1005.6 87.7L1006.5 91.1L1007.5 94.7L1008.5 98.7L1009.5 101.7L1010.6 103.8L1011.9 104.9L1013.4 105.6L1015.2 105.9L1017.1 105.5L1018.5 104.8L1019.4 104.1L1019.9 104L1020 104.5L1020.4 105.3L1021 106.2L1021.8 107.6L1022.7 109.4L1023.6 111.7L1024.6 114L1025.6 116.3L1026.6 118.6L1027.6 120.7L1028.6 122.9L1029.7 125.4L1030.8 127.6L1032.3 128.6L1034.8 128.6L1037 127L1038.2 125L1038.7 124.5L1038.2 125.1L1038.2 126.1L1038.9 128.3L1039.9 130.2L1041.1 131.3L1042.7 131.6L1044.4 131.7L1045.6 131.6L1046 130.9L1046.1 131.1L1046.6 133.1L1047.5 136.8L1048.5 142L1049.5 147.4L1050.4 152.6L1051.5 157.8L1052.5 162.7L1053.5 166.2L1054.6 168.1L1056.1 168.9L1058.8 168.9L1061.3 166.9L1062.6 164.3L1063.7 162.6L1064.4 162L1064.5 162.4L1064 163.1L1064.4 164.1L1065.3 165.8L1066.7 166.9L1069.1 166.9L1071.3 165L1072.5 162.4L1073.4 161.1L1073.5 161.4L1072.8 162.3L1073 163.4L1073.8 165.3L1074.7 168L1075.9 169.8L1077.4 170.8L1079.2 170.6L1079.9 169.2L1080.2 169.6L1080.8 172.3L1081.8 174.9L1082.9 176.5L1084.6 177.1L1087.2 176.6L1089.1 175.1L1090.4 173.3L1091.3 172.3L1091.8 172.2L1091.9 172.7L1092.1 173.3L1092.6 173.9L1093.3 174.6L1094.1 175.5L1095 176.8L1096 178.1L1096.9 179.3L1098 180.5L1099 181.6L1100 182.7L1100.9 184L1101.9 185.2L1102.9 186.5L1104.1 188.2L1105.5 189.4L1107.8 189.5L1110.3 187.8L1111.8 185.3L1113 182.2L1114.1 178.4L1115.1 174.1L1116 171.5L1116.7 171.2L1115.8 172.9L1115 174.1L1115.6 176.7L1116.6 179.9L1117.5 183L1118.6 185.8L1119.6 188.1L1120.6 190.1L1121.7 191.9L1122.7 193.9L1123.9 196L1125.3 197.2L1127.8 197.2L1130.3 195.4L1131.8 192.9L1133 190.1L1134 187L1135.1 183.7L1136.1 180.2L1137 176.7L1137.9 175L1138.4 175.3L1137.4 176.8L1137 177.9L1137.7 180.1L1138.6 182.9L1139.6 185.3L1140.6 187.4L1141.7 189.2L1142.8 190.6L1143.9 191.8L1145 193.1L1146.2 194.2L1147.7 194.9L1149.4 195.2L1151.3 194.7L1153 193.6L1154.4 192.2L1155.6 190.6L1156.7 189L1157.6 187.5L1158.4 186.9L1158.8 186.9L1158.7 187.5L1158.9 188.1L1159.7 189.3L1160.9 190.1L1162.7 190.1L1164.4 189.4L1165.5 188.2L1165.8 187.9L1165.5 188.4L1165.9 189.8L1166.7 192.4L1167.8 194.7L1169 196.2L1170.7 196.8L1173 196.4L1174.9 195.1L1176.2 193.7L1177.1 192.8L1177.5 192.8L1177.6 193.2L1177.8 193.9L1178.3 194.7L1179.2 195.7L1180.1 196.7L1181.3 198.1L1182.9 198.9L1185.2 198.6L1187.3 197L1188.7 194.8L1189.9 192.3L1191 189.7L1192.1 186.5L1193.1 183L1194.1 179.2L1195 177.1L1195.6 177.2L1194.7 178.7L1194.2 179.9L1194.9 182.2L1195.9 183.9L1197 185.2L1198.6 185.9L1200.6 186.2L1202.4 185.3L1203.6 184.1L1204.2 183.9L1204 184.3L1204.4 185.2L1205.3 187L1206.6 188.1L1209 188.1L1211.3 186.2L1212.8 183.7L1213.9 181.1L1214.8 178.7L1215.3 178.3L1214.9 179.6L1215.2 181.8L1217.1 182.4L1219.7 180.1L1221 176.1L1222.1 171.1L1223.1 167.1L1224 164.9L1224.8 164.2L1225.3 164.8L1225.5 166L1226.3 166.4L1227.8 165.9L1229.3 164.4L1230.7 162.4L1231.9 160.3L1232.9 157.8L1234 155.4L1234.9 152.9L1235.8 151.5L1236.5 151.1L1236.8 151.5L1236.7 152.2L1236.8 152.8L1237.3 153.6L1238.1 154.6L1238.9 155.8L1239.9 157.2L1240.9 158.7L1241.9 159.9L1243.1 161.5L1244.7 162.5L1246.9 162.4L1249 160.9L1250.6 159.1L1251.8 157.2L1252.9 155L1253.9 152.9L1254.9 150.8L1255.9 149.1L1256.9 147.6L1257.8 146.3L1258.8 144.9L1259.6 143.5L1260 143.4L1259.5 144.2L1259.3 145.1L1259.9 146.7L1260.9 148.9L1262.2 150.2L1264.1 150.7L1266.6 149.8L1268.4 147.9L1269.7 145.9L1270.8 143.9L1271.9 141.9L1272.9 139.8L1274 137.5L1275 135.1L1276 132.7L1277 130.4L1277.9 127.9L1278.7 126.7L1278.6 127.7L1277.4 128.8L1277.8 130.6L1278.6 133.1L1279.6 136L1280.5 139.2L1281.5 142.3L1282.5 145.6L1283.5 149.1L1284.5 152.5L1285.5 155.7L1286.5 158.4L1287.6 160.6L1288.6 162.6L1289.7 164.7L1290.8 166.9L1292.2 168L1294.5 168.3L1297.1 166.8L1298.7 164.5L1299.9 161.9L1301 159.3L1302 157L1303 154.7L1304 152.2L1304.9 150L1305.8 148.9L1306.2 149.1L1305.9 150.1L1305.8 150.9L1306.5 152L1307.4 152.9L1308.8 153.5L1310.3 153.8L1311.6 153.5L1312.7 153.2L1313.3 153.3L1313.6 153.8L1314.2 154.5L1315 155.8L1315.9 157.3L1316.9 158.9L1318 160.1L1319.3 160.9L1320.6 161.5L1322 161.9L1323.4 162L1324.5 161.9L1325.4 161.9L1326.1 162.1L1326.9 162.7L1328 163.6L1329.5 163.9L1331.4 163.4L1332.7 162.2L1333.3 161.1L1332.7 161.3L1332.9 162.6L1333.7 165.8L1334.6 168.9L1335.7 170.9L1337 172L1338.9 172.4L1340.8 171.8L1342.1 171.3L1342.9 171.3L1343.4 171.4L1344 171.8L1344.6 172.3L1345.3 173.2L1346.1 174.1L1347.1 175.1L1348 176.2L1348.9 177.4L1349.8 178.9L1350.8 180.6L1351.7 182.4L1352.7 184.2L1353.8 185.9L1355 187.6L1356.6 188.6L1359.2 188.2L1361.3 186.4L1362.7 184L1363.9 181.7L1364.9 179.5L1365.9 177.3L1366.9 175.5L1367.9 174.1L1368.8 172.8L1369.8 171.4L1370.9 169.6L1371.9 167.7L1372.9 165.8L1373.9 164L1374.8 162.3L1375.7 160.8L1375.9 160.9L1374.9 161.9L1374.9 163.1L1375.7 165.6L1376.6 168.7L1377.6 171.3L1378.7 173.1L1379.8 174.5L1381.2 175.7L1383 176.7L1385.6 175.9L1387.5 173.7L1388.8 171.2L1389.8 168.6L1390.6 167.2L1390.6 167.8L1389.6 168.8L1389.8 170.5L1390.7 173L1391.6 175.4L1392.7 177.4L1393.7 179.1L1394.8 180.6L1395.9 181.9L1397.1 182.8L1398.3 183.7L1399.4 184.4L1400.6 185.1L1401.7 185.6L1402.8 186.1L1404 186.5L1405.2 186.8L1406.6 187L1408.2 186.8L1409.8 185.9L1411.3 184.6L1412.5 183.2L1413.6 181.8L1414.7 180.3L1415.6 178.7L1416 178.3L1415.4 179L1415 179.9L1415.7 182.1L1416.6 185.1L1417.7 187.5L1418.9 189.1L1420.7 189.8L1423.3 189.1L1425.3 187.3L1426.7 185.3L1427.8 183.4L1428.7 181.6L1429.5 180.7L1429.9 180.9L1429.7 181.6L1429.6 182.2L1430.2 183.3L1431 184.7L1432 185.9L1433.2 187.1L1434.4 187.9L1435.9 188.3L1437.4 188.5L1438.9 188.3L1440.1 188L1440.9 187.6L1441.3 187.7L1441.6 188.2L1442.3 189.3L1443.1 190.5L1444.1 191.5L1445.2 192.5L1446.4 193.3L1447.6 194L1448.8 194.4L1450 194.7L1451.2 195L1452.3 195.1L1453.3 195.2L1454.2 195.5L1455.2 195.9L1456.2 196.2L1457.3 196.3L1458.3 196.5L1459.2 196.7L1460.1 197L1461.1 197.5L1462.2 197.9L1463.6 198.1L1465.2 197.9L1466.7 197.1L1468.1 196.1L1469.3 195L1470.5 193.7L1471.6 192.2L1472.6 190.7L1473.5 189.7L1474.1 189.5L1474.2 189.9L1474.2 190.3L1474.6 191.1L1475.4 192.1L1476.3 192.9" stroke="#686868" stroke-width="1.45" fill="none" stroke-linejoin="round"/>
<path d="M431.5 168L433.5 134M433.5 172L435.5 138M912.5 176L920.5 100M915 178L923 102" stroke="#777" stroke-width="1.2" stroke-dasharray="1 1.3" fill="none"/>
<path d="M0 212.4L24 212.4" stroke="#5aa85c" stroke-width="5.6" fill="none" stroke-linejoin="round"/>
<path d="M0 212.4L24 212.4" stroke="#5aa85c" stroke-width="6.6" fill="none" stroke-linejoin="round" stroke-dasharray="2 2.6"/>
<path d="M35 214L57 213" stroke="#5aa85c" stroke-width="5.6" fill="none" stroke-linejoin="round"/>
<path d="M35 214L57 213" stroke="#5aa85c" stroke-width="6.6" fill="none" stroke-linejoin="round" stroke-dasharray="2 2.6"/>
<path d="M64 211.6L73 210.5" stroke="#5aa85c" stroke-width="5.6" fill="none" stroke-linejoin="round"/>
<path d="M64 211.6L73 210.5" stroke="#5aa85c" stroke-width="6.6" fill="none" stroke-linejoin="round" stroke-dasharray="2 2.6"/>
<path d="M86 207L100 202L122 199" stroke="#5aa85c" stroke-width="5.6" fill="none" stroke-linejoin="round"/>
<path d="M86 207L100 202L122 199" stroke="#5aa85c" stroke-width="6.6" fill="none" stroke-linejoin="round" stroke-dasharray="2 2.6"/>
<path d="M141 199L145 195.5L170 190.3L183.7 182.7L204 178.4L221 180L250 181L286 187.7" stroke="#5aa85c" stroke-width="5.6" fill="none" stroke-linejoin="round"/>
<path d="M141 199L145 195.5L170 190.3L183.7 182.7L204 178.4L221 180L250 181L286 187.7" stroke="#5aa85c" stroke-width="6.6" fill="none" stroke-linejoin="round" stroke-dasharray="2 2.6"/>
<path d="M310 191.7L330 194L346 196.7" stroke="#5aa85c" stroke-width="5.6" fill="none" stroke-linejoin="round"/>
<path d="M310 191.7L330 194L346 196.7" stroke="#5aa85c" stroke-width="6.6" fill="none" stroke-linejoin="round" stroke-dasharray="2 2.6"/>
<path d="M356 198.7L370 194.5L390 187.7L410 183L430 178.8" stroke="#5aa85c" stroke-width="5.6" fill="none" stroke-linejoin="round"/>
<path d="M356 198.7L370 194.5L390 187.7L410 183L430 178.8" stroke="#5aa85c" stroke-width="6.6" fill="none" stroke-linejoin="round" stroke-dasharray="2 2.6"/>
<path d="M446 178.8L457 178.2" stroke="#5aa85c" stroke-width="5.6" fill="none" stroke-linejoin="round"/>
<path d="M446 178.8L457 178.2" stroke="#5aa85c" stroke-width="6.6" fill="none" stroke-linejoin="round" stroke-dasharray="2 2.6"/>
<path d="M468 172.8L483 163.8" stroke="#5aa85c" stroke-width="5.6" fill="none" stroke-linejoin="round"/>
<path d="M468 172.8L483 163.8" stroke="#5aa85c" stroke-width="6.6" fill="none" stroke-linejoin="round" stroke-dasharray="2 2.6"/>
<path d="M492 157.8L500 151.7L520 137.7" stroke="#5aa85c" stroke-width="5.6" fill="none" stroke-linejoin="round"/>
<path d="M492 157.8L500 151.7L520 137.7" stroke="#5aa85c" stroke-width="6.6" fill="none" stroke-linejoin="round" stroke-dasharray="2 2.6"/>
<path d="M534 125.7L550 111.8L560 101.8L580 87.8L596 76.8" stroke="#5aa85c" stroke-width="5.6" fill="none" stroke-linejoin="round"/>
<path d="M534 125.7L550 111.8L560 101.8L580 87.8L596 76.8" stroke="#5aa85c" stroke-width="6.6" fill="none" stroke-linejoin="round" stroke-dasharray="2 2.6"/>
<path d="M600.5 74.8h7M604 71.3v7" stroke="#5aa85c" stroke-width="2.8" fill="none"/>
<path d="M608.5 74.2h7M612 70.7v7" stroke="#5aa85c" stroke-width="2.8" fill="none"/>
<path d="M620 68.9L636 63.5L648 60.9L666 62.9L680 68.9L698 76.8" stroke="#5aa85c" stroke-width="5.6" fill="none" stroke-linejoin="round"/>
<path d="M620 68.9L636 63.5L648 60.9L666 62.9L680 68.9L698 76.8" stroke="#5aa85c" stroke-width="6.6" fill="none" stroke-linejoin="round" stroke-dasharray="2 2.6"/>
<path d="M708 86.8L726 92.8" stroke="#5aa85c" stroke-width="5.6" fill="none" stroke-linejoin="round"/>
<path d="M708 86.8L726 92.8" stroke="#5aa85c" stroke-width="6.6" fill="none" stroke-linejoin="round" stroke-dasharray="2 2.6"/>
<path d="M734 98.8L750 107.9L760 113.7L790 130L814 142.8" stroke="#5aa85c" stroke-width="5.6" fill="none" stroke-linejoin="round"/>
<path d="M734 98.8L750 107.9L760 113.7L790 130L814 142.8" stroke="#5aa85c" stroke-width="6.6" fill="none" stroke-linejoin="round" stroke-dasharray="2 2.6"/>
<path d="M819 147.8L838 153.8" stroke="#5aa85c" stroke-width="5.6" fill="none" stroke-linejoin="round"/>
<path d="M819 147.8L838 153.8" stroke="#5aa85c" stroke-width="6.6" fill="none" stroke-linejoin="round" stroke-dasharray="2 2.6"/>
<path d="M842 157.8L854 158.5L880 169.7" stroke="#5aa85c" stroke-width="5.6" fill="none" stroke-linejoin="round"/>
<path d="M842 157.8L854 158.5L880 169.7" stroke="#5aa85c" stroke-width="6.6" fill="none" stroke-linejoin="round" stroke-dasharray="2 2.6"/>
<path d="M892 179.7L900 182.7" stroke="#5aa85c" stroke-width="5.6" fill="none" stroke-linejoin="round"/>
<path d="M892 179.7L900 182.7" stroke="#5aa85c" stroke-width="6.6" fill="none" stroke-linejoin="round" stroke-dasharray="2 2.6"/>
<path d="M903 185.7L910 185.7" stroke="#5aa85c" stroke-width="5.6" fill="none" stroke-linejoin="round"/>
<path d="M903 185.7L910 185.7" stroke="#5aa85c" stroke-width="6.6" fill="none" stroke-linejoin="round" stroke-dasharray="2 2.6"/>
<path d="M926 198L933 192.7" stroke="#5aa85c" stroke-width="5.6" fill="none" stroke-linejoin="round"/>
<path d="M926 198L933 192.7" stroke="#5aa85c" stroke-width="6.6" fill="none" stroke-linejoin="round" stroke-dasharray="2 2.6"/>
<path d="M941 194.7L949.6 183.7L960 178.5L975.5 171.7" stroke="#5aa85c" stroke-width="5.6" fill="none" stroke-linejoin="round"/>
<path d="M941 194.7L949.6 183.7L960 178.5L975.5 171.7" stroke="#5aa85c" stroke-width="6.6" fill="none" stroke-linejoin="round" stroke-dasharray="2 2.6"/>
<path d="M980 171.7L995.5 160.7" stroke="#5aa85c" stroke-width="5.6" fill="none" stroke-linejoin="round"/>
<path d="M980 171.7L995.5 160.7" stroke="#5aa85c" stroke-width="6.6" fill="none" stroke-linejoin="round" stroke-dasharray="2 2.6"/>
<path d="M1004 158.8L1012 147.8L1026 138.8L1040 133.8L1054 130.8L1074 126.8L1090 131.8L1110 140.8" stroke="#5aa85c" stroke-width="5.6" fill="none" stroke-linejoin="round"/>
<path d="M1004 158.8L1012 147.8L1026 138.8L1040 133.8L1054 130.8L1074 126.8L1090 131.8L1110 140.8" stroke="#5aa85c" stroke-width="6.6" fill="none" stroke-linejoin="round" stroke-dasharray="2 2.6"/>
<path d="M1116 145.8L1128 146.5" stroke="#5aa85c" stroke-width="5.6" fill="none" stroke-linejoin="round"/>
<path d="M1116 145.8L1128 146.5" stroke="#5aa85c" stroke-width="6.6" fill="none" stroke-linejoin="round" stroke-dasharray="2 2.6"/>
<path d="M1136 152.8L1154 161.7" stroke="#5aa85c" stroke-width="5.6" fill="none" stroke-linejoin="round"/>
<path d="M1136 152.8L1154 161.7" stroke="#5aa85c" stroke-width="6.6" fill="none" stroke-linejoin="round" stroke-dasharray="2 2.6"/>
<path d="M1157 163.7L1186 181.7" stroke="#5aa85c" stroke-width="5.6" fill="none" stroke-linejoin="round"/>
<path d="M1157 163.7L1186 181.7" stroke="#5aa85c" stroke-width="6.6" fill="none" stroke-linejoin="round" stroke-dasharray="2 2.6"/>
<path d="M1192 188.7L1211 188.7L1220 190" stroke="#5aa85c" stroke-width="5.6" fill="none" stroke-linejoin="round"/>
<path d="M1192 188.7L1211 188.7L1220 190" stroke="#5aa85c" stroke-width="6.6" fill="none" stroke-linejoin="round" stroke-dasharray="2 2.6"/>
<path d="M1230 193.7L1258 187.7" stroke="#5aa85c" stroke-width="5.6" fill="none" stroke-linejoin="round"/>
<path d="M1230 193.7L1258 187.7" stroke="#5aa85c" stroke-width="6.6" fill="none" stroke-linejoin="round" stroke-dasharray="2 2.6"/>
<path d="M1261 185.7L1273 183.7" stroke="#5aa85c" stroke-width="5.6" fill="none" stroke-linejoin="round"/>
<path d="M1261 185.7L1273 183.7" stroke="#5aa85c" stroke-width="6.6" fill="none" stroke-linejoin="round" stroke-dasharray="2 2.6"/>
<path d="M1278 182.7L1308 173.7L1330 167.7L1352 165.7L1380 165.3L1403.6 166.7L1419.6 170.7L1439.5 176.7L1463.5 180.7L1475.5 183.3" stroke="#5aa85c" stroke-width="5.6" fill="none" stroke-linejoin="round"/>
<path d="M1278 182.7L1308 173.7L1330 167.7L1352 165.7L1380 165.3L1403.6 166.7L1419.6 170.7L1439.5 176.7L1463.5 180.7L1475.5 183.3" stroke="#5aa85c" stroke-width="6.6" fill="none" stroke-linejoin="round" stroke-dasharray="2 2.6"/>
<path d="M0 207.3L45 207.3L56 205.6L85 197" stroke="#f85858" stroke-width="8.4" fill="none" stroke-linejoin="round"/>
<path d="M0 207.3L45 207.3L56 205.6L85 197" stroke="#f85858" stroke-width="9.4" fill="none" stroke-linejoin="round" stroke-dasharray="2 2.6"/>
<path d="M107 191L141 184.4" stroke="#f85858" stroke-width="8.4" fill="none" stroke-linejoin="round"/>
<path d="M107 191L141 184.4" stroke="#f85858" stroke-width="9.4" fill="none" stroke-linejoin="round" stroke-dasharray="2 2.6"/>
<path d="M144.7 183.5h8.6M149 179.2v8.6" stroke="#f85858" stroke-width="4.2" fill="none"/>
<path d="M158 180L183.7 174L187 173.3L204 169" stroke="#f85858" stroke-width="8.4" fill="none" stroke-linejoin="round"/>
<path d="M158 180L183.7 174L187 173.3L204 169" stroke="#f85858" stroke-width="9.4" fill="none" stroke-linejoin="round" stroke-dasharray="2 2.6"/>
<path d="M210 168L233 169.5L262 172.6" stroke="#f85858" stroke-width="8.4" fill="none" stroke-linejoin="round" stroke-dasharray="7 2.2"/>
<path d="M264 173.8L286 177.8" stroke="#f85858" stroke-width="8.4" fill="none" stroke-linejoin="round"/>
<path d="M264 173.8L286 177.8" stroke="#f85858" stroke-width="9.4" fill="none" stroke-linejoin="round" stroke-dasharray="2 2.6"/>
<path d="M288 183.2L310 183.5L330 184" stroke="#f85858" stroke-width="8.4" fill="none" stroke-linejoin="round"/>
<path d="M288 183.2L310 183.5L330 184" stroke="#f85858" stroke-width="9.4" fill="none" stroke-linejoin="round" stroke-dasharray="2 2.6"/>
<path d="M334 186.5L370 186.5" stroke="#f85858" stroke-width="8.4" fill="none" stroke-linejoin="round"/>
<path d="M334 186.5L370 186.5" stroke="#f85858" stroke-width="9.4" fill="none" stroke-linejoin="round" stroke-dasharray="2 2.6"/>
<path d="M385.4 179.8h8.6M389.7 175.5v8.6" stroke="#f85858" stroke-width="4.2" fill="none"/>
<path d="M399 178.5L405 177.2" stroke="#f85858" stroke-width="8.4" fill="none" stroke-linejoin="round"/>
<path d="M399 178.5L405 177.2" stroke="#f85858" stroke-width="9.4" fill="none" stroke-linejoin="round" stroke-dasharray="2 2.6"/>
<path d="M415.7 174.8L429.6 173.8L449.6 163.8L469.6 153.8L489.5 143.8L500 135.7L520 121.7L540 101.8L560 85.8L580 73.8L598 63.9" stroke="#f85858" stroke-width="8.4" fill="none" stroke-linejoin="round"/>
<path d="M415.7 174.8L429.6 173.8L449.6 163.8L469.6 153.8L489.5 143.8L500 135.7L520 121.7L540 101.8L560 85.8L580 73.8L598 63.9" stroke="#f85858" stroke-width="9.4" fill="none" stroke-linejoin="round" stroke-dasharray="2 2.6"/>
<path d="M603.7 60h8.6M608 55.7v8.6" stroke="#f85858" stroke-width="4.2" fill="none"/>
<path d="M624 57L632 56.5" stroke="#f85858" stroke-width="8.4" fill="none" stroke-linejoin="round"/>
<path d="M624 57L632 56.5" stroke="#f85858" stroke-width="9.4" fill="none" stroke-linejoin="round" stroke-dasharray="2 2.6"/>
<path d="M640 53.8L660 53.2" stroke="#f85858" stroke-width="8.4" fill="none" stroke-linejoin="round"/>
<path d="M640 53.8L660 53.2" stroke="#f85858" stroke-width="9.4" fill="none" stroke-linejoin="round" stroke-dasharray="2 2.6"/>
<path d="M665.7 56h8.6M670 51.7v8.6" stroke="#f85858" stroke-width="4.2" fill="none"/>
<path d="M675.7 60h8.6M680 55.7v8.6" stroke="#f85858" stroke-width="4.2" fill="none"/>
<path d="M683.7 63.9h8.6M688 59.6v8.6" stroke="#f85858" stroke-width="4.2" fill="none"/>
<path d="M696 70L713 78" stroke="#f85858" stroke-width="8.4" fill="none" stroke-linejoin="round"/>
<path d="M696 70L713 78" stroke="#f85858" stroke-width="9.4" fill="none" stroke-linejoin="round" stroke-dasharray="2 2.6"/>
<path d="M724 86L739 92" stroke="#f85858" stroke-width="8.4" fill="none" stroke-linejoin="round"/>
<path d="M724 86L739 92" stroke="#f85858" stroke-width="9.4" fill="none" stroke-linejoin="round" stroke-dasharray="2 2.6"/>
<path d="M745.7 98.9h8.6M750 94.6v8.6" stroke="#f85858" stroke-width="4.2" fill="none"/>
<path d="M751.7 101.5h8.6M756 97.2v8.6" stroke="#f85858" stroke-width="4.2" fill="none"/>
<path d="M762 105.9L776 113.9" stroke="#f85858" stroke-width="8.4" fill="none" stroke-linejoin="round"/>
<path d="M762 105.9L776 113.9" stroke="#f85858" stroke-width="9.4" fill="none" stroke-linejoin="round" stroke-dasharray="2 2.6"/>
<path d="M784.7 121.8h8.6M789 117.5v8.6" stroke="#f85858" stroke-width="4.2" fill="none"/>
<path d="M798 127.8L844 147.8" stroke="#f85858" stroke-width="8.4" fill="none" stroke-linejoin="round"/>
<path d="M798 127.8L844 147.8" stroke="#f85858" stroke-width="9.4" fill="none" stroke-linejoin="round" stroke-dasharray="2 2.6"/>
<path d="M855.7 153.8h8.6M860 149.5v8.6" stroke="#f85858" stroke-width="4.2" fill="none"/>
<path d="M878 163.7L910 179.7L916 179.7L946 166.5" stroke="#f85858" stroke-width="8.4" fill="none" stroke-linejoin="round"/>
<path d="M878 163.7L910 179.7L916 179.7L946 166.5" stroke="#f85858" stroke-width="9.4" fill="none" stroke-linejoin="round" stroke-dasharray="2 2.6"/>
<path d="M943.7 164.7h8.6M948 160.4v8.6" stroke="#f85858" stroke-width="4.2" fill="none"/>
<path d="M957.3 159.8h8.6M961.6 155.5v8.6" stroke="#f85858" stroke-width="4.2" fill="none"/>
<path d="M969.6 158.8L1000 141.5" stroke="#f85858" stroke-width="8.4" fill="none" stroke-linejoin="round"/>
<path d="M969.6 158.8L1000 141.5" stroke="#f85858" stroke-width="9.4" fill="none" stroke-linejoin="round" stroke-dasharray="2 2.6"/>
<path d="M1003 139.5L1007 137.5" stroke="#f85858" stroke-width="8.4" fill="none" stroke-linejoin="round"/>
<path d="M1003 139.5L1007 137.5" stroke="#f85858" stroke-width="9.4" fill="none" stroke-linejoin="round" stroke-dasharray="2 2.6"/>
<path d="M1013 133L1022 132" stroke="#f85858" stroke-width="8.4" fill="none" stroke-linejoin="round"/>
<path d="M1013 133L1022 132" stroke="#f85858" stroke-width="9.4" fill="none" stroke-linejoin="round" stroke-dasharray="2 2.6"/>
<path d="M1031 126.5L1040 125" stroke="#f85858" stroke-width="8.4" fill="none" stroke-linejoin="round"/>
<path d="M1031 126.5L1040 125" stroke="#f85858" stroke-width="9.4" fill="none" stroke-linejoin="round" stroke-dasharray="2 2.6"/>
<path d="M1044 119.8L1066 117.4" stroke="#f85858" stroke-width="8.4" fill="none" stroke-linejoin="round"/>
<path d="M1044 119.8L1066 117.4" stroke="#f85858" stroke-width="9.4" fill="none" stroke-linejoin="round" stroke-dasharray="2 2.6"/>
<path d="M1076.7 120.2h8.6M1081 115.9v8.6" stroke="#f85858" stroke-width="4.2" fill="none"/>
<path d="M1090 124.3L1099 125.5" stroke="#f85858" stroke-width="8.4" fill="none" stroke-linejoin="round"/>
<path d="M1090 124.3L1099 125.5" stroke="#f85858" stroke-width="9.4" fill="none" stroke-linejoin="round" stroke-dasharray="2 2.6"/>
<path d="M1106 131.8L1121 135.8" stroke="#f85858" stroke-width="8.4" fill="none" stroke-linejoin="round"/>
<path d="M1106 131.8L1121 135.8" stroke="#f85858" stroke-width="9.4" fill="none" stroke-linejoin="round" stroke-dasharray="2 2.6"/>
<path d="M1125 138.8L1139 144.8" stroke="#f85858" stroke-width="8.4" fill="none" stroke-linejoin="round"/>
<path d="M1125 138.8L1139 144.8" stroke="#f85858" stroke-width="9.4" fill="none" stroke-linejoin="round" stroke-dasharray="2 2.6"/>
<path d="M1144 148.8L1159 154.8" stroke="#f85858" stroke-width="8.4" fill="none" stroke-linejoin="round"/>
<path d="M1144 148.8L1159 154.8" stroke="#f85858" stroke-width="9.4" fill="none" stroke-linejoin="round" stroke-dasharray="2 2.6"/>
<path d="M1159.7 158.8h8.6M1164 154.5v8.6" stroke="#f85858" stroke-width="4.2" fill="none"/>
<path d="M1168 162.7L1188 172.7L1190 175.7L1215.5 180.7L1219.5 180.7L1238 180.7" stroke="#f85858" stroke-width="8.4" fill="none" stroke-linejoin="round"/>
<path d="M1168 162.7L1188 172.7L1190 175.7L1215.5 180.7L1219.5 180.7L1238 180.7" stroke="#f85858" stroke-width="9.4" fill="none" stroke-linejoin="round" stroke-dasharray="2 2.6"/>
<path d="M1235.7 180.7h8.6M1240 176.4v8.6" stroke="#f85858" stroke-width="4.2" fill="none"/>
<path d="M1245.2 179.5h8.6M1249.5 175.2v8.6" stroke="#f85858" stroke-width="4.2" fill="none"/>
<path d="M1255 177.7L1288 169.7" stroke="#f85858" stroke-width="8.4" fill="none" stroke-linejoin="round"/>
<path d="M1255 177.7L1288 169.7" stroke="#f85858" stroke-width="9.4" fill="none" stroke-linejoin="round" stroke-dasharray="2 2.6"/>
<path d="M1294 167.7L1306 164.7" stroke="#f85858" stroke-width="8.4" fill="none" stroke-linejoin="round"/>
<path d="M1294 167.7L1306 164.7" stroke="#f85858" stroke-width="9.4" fill="none" stroke-linejoin="round" stroke-dasharray="2 2.6"/>
<path d="M1309 164.3L1319 164.3" stroke="#f85858" stroke-width="8.4" fill="none" stroke-linejoin="round"/>
<path d="M1309 164.3L1319 164.3" stroke="#f85858" stroke-width="9.4" fill="none" stroke-linejoin="round" stroke-dasharray="2 2.6"/>
<path d="M1332 158.8L1394 158.8" stroke="#f85858" stroke-width="8.4" fill="none" stroke-linejoin="round" stroke-dasharray="8 3"/>
<path d="M1401 160L1409 160.6" stroke="#f85858" stroke-width="8.4" fill="none" stroke-linejoin="round"/>
<path d="M1401 160L1409 160.6" stroke="#f85858" stroke-width="9.4" fill="none" stroke-linejoin="round" stroke-dasharray="2 2.6"/>
<path d="M1409.7 161.7h8.6M1414 157.4v8.6" stroke="#f85858" stroke-width="4.2" fill="none"/>
<path d="M1423 165.3L1433 167.7" stroke="#f85858" stroke-width="8.4" fill="none" stroke-linejoin="round"/>
<path d="M1423 165.3L1433 167.7" stroke="#f85858" stroke-width="9.4" fill="none" stroke-linejoin="round" stroke-dasharray="2 2.6"/>
<path d="M1437.2 170.3h8.6M1441.5 166v8.6" stroke="#f85858" stroke-width="4.2" fill="none"/>
<path d="M1446.2 171.7h8.6M1450.5 167.4v8.6" stroke="#f85858" stroke-width="4.2" fill="none"/>
<path d="M1463 175.7L1474 177.7" stroke="#f85858" stroke-width="8.4" fill="none" stroke-linejoin="round"/>
<path d="M1463 175.7L1474 177.7" stroke="#f85858" stroke-width="9.4" fill="none" stroke-linejoin="round" stroke-dasharray="2 2.6"/>
<path d="M6.4 203.3V206.8M8.4 202.7V207.6M9.6 202.4V207.7M10.4 201.1V208.5M11.2 200.9V207.4M12.4 202.1V205.7M17.2 202.1V207.7M24.7 210V212.3M25.6 209.3V222M26.4 207.5V215.5M27.4 206.3V208.2M28.6 205.3V211.1M30.8 200.4V203.4M31.7 193.9V205.1M32.9 193.1V198.5M34.6 192.5V199.6M38.4 194.7V202M43.1 196.4V202.5M48.7 202V207.9M49.9 200.8V204.8M51.9 200.1V205.7M52.7 200V206.9M54.3 199.6V202.5M55.3 197.8V208.1M56.3 196.9V200.5M57.5 192.3V198.6M58.3 188.6V193M59.3 188.2V199.2M60.2 187.1V191.4M61.1 183.1V191.9M68 193.3V195.4M69 189.6V191.2M70.2 186.5V189.4M72.4 177.1V183.3M73.2 171.1V177.6M74 173.3V179.2M75 169.4V174.1M75.9 169.7V171.9M76.9 166.3V174.6M78.1 166.8V171.4M79.3 166.9V171.8M80.1 164.8V170M90 186.4V191.1M93.3 178.9V184.7M94.3 180.8V182.4M95.1 178.1V182.2M96 177.3V180.7M96.9 176.4V186.7M98.1 175.4V178.4M99.1 167.9V180.3M100 174.2V179.3M101 171.8V177.4M105.1 167.6V172M106 167.9V173.3M106.8 168.2V174M107.6 166.1V169.4M108.8 169.7V171.2M110 167V171.3M111.2 167.7V170.4M112.2 166.2V167.9M113.1 164.4V175.6M121.7 165.1V171.5M122.7 160.6V165.9M123.7 159.6V163.9M125.8 150.1V158.5M128.4 138.1V143M129.6 134.9V137.9M135.3 154.1V158M142.7 168.5V172.7M143.7 167.9V169.3M144.5 164.8V168.9M145.4 160.8V170.5M146.2 159.1V164.2M148.3 163.9V168.2M154.6 169.5V171.7M155.8 163.9V170.5M156.8 166.7V172.8M157.6 162.2V173.8M159.5 158.6V164M160.3 159.2V164.2M167.5 164.9V171.2M168.4 161.2V173.6M169.2 164.3V167.6M170 160.5V164.5M171.2 156.7V160.9M172.1 153.7V157.4M188 163.5V166.9M190.1 162.2V166.4M190.9 162.5V166.2M192.1 155.2V162.8M192.9 156.4V160.4M194.9 152.6V155.3M196.1 152.1V155.6M196.9 150.6V158.6M220.5 204.1V213M224.1 193.5V203.9M224.9 191.5V199.2M231.3 208.9V212.4M233.3 204.3V211.1M234.5 199.8V206.4M235.4 199.3V202.7M241.8 210.2V212.8M243.6 205.2V209.7M245.4 199.1V201.2M246.6 195.5V201.5M247.6 194V197.1M252 188.4V190.6M260.2 205.9V210.2M264.2 207.6V218.4M265.1 208.6V212.5M266 206.6V210.2M267.2 204.7V207.3M268 201.7V208.4M269.7 194.8V204M271.8 189V198.5M272.8 191.2V196.1M279.7 193.4V199.7M280.9 194.5V196.5M281.7 193V195.8M284.5 189.8V193.5M285.3 185.6V191.8M286.5 189.5V193.4M287.4 185.8V191.3M288.3 182.9V186.7M290.8 174.2V180.5M292 175.3V176.5M294 168.2V173.3M294.8 165.9V170.2M296.6 161.6V164.1M304.3 184.4V186.7M310.2 196.2V204.4M311.2 190.1V206.1M312.2 193.6V196.3M313.1 191.4V194.7M314 187.8V191.6M315 187.5V198.3M316 180.4V190.5M318.4 177.3V181.1M319.4 173.2V175.2M321.6 159.8V166.8M324.1 168.1V171.7M327.7 180.3V183.1M331.5 184.6V186.2M333.2 182.3V187.4M334.2 179.1V184M335.2 175.7V180.2M336.2 173.6V177.6M337 171.4V180.5M337.9 169.1V172.3M339.1 169.3V171M340 166.7V173.7M340.8 168.8V171.5M341.6 167.7V173.6M342.5 163.9V168.7M343.7 163.1V178.5M344.7 165.2V167.4M345.6 162.5V164.6M347.4 161.4V164.4M349.3 158.8V169.2M352.1 161.8V163.8M357.9 162.4V166.7M359.8 161.9V167.1M360.7 156.3V163.2M361.6 158.7V161.8M366.1 152.9V159.7M367.3 153.7V154.8M373.7 158.6V162.6M374.5 159.1V160.8M375.7 155.1V160.8M381.2 162.5V173.6M387.9 172.4V175.1M389.8 171.7V175.2M391 170.4V173.1M391.8 169.2V173M392.7 168.5V171M396 167.7V171.1M397.2 167.2V169.2M398 167.1V170.9M399.2 167.2V170M400.4 166.3V173.5M401.2 166.7V172.6M403 156.9V166.5M404.6 166.4V168.9M415.4 172.1V176.5M416.4 171.5V177.4M418.4 171.6V178M420.4 170V172.6M421.3 170.1V173.4M422.2 164.7V171.2M426.5 166.2V174.5M427.7 169.9V172.7M428.9 167.5V173.5M429.8 168.2V173.3M432.8 135.9V140.4M433.7 133.6V136.2M434.7 132.6V138.4M435.9 131.1V137M436.7 135V138.4M437.7 132V134.2M438.6 129V134.5M440.7 127.9V130.7M441.6 121.8V131.3M446.5 123.3V130.1M457.1 120.3V125.5M458.3 118.5V122M459.1 118.1V122.3M460.1 113.5V116.7M462.1 107V110M463.1 104.9V106.8M464.1 101.8V105M465.1 99.8V107M472.9 113.1V116.7M474.9 108V112.3M475.8 105.8V109.6M476.8 102.9V104.9M478.7 95.1V99.3M479.7 92.9V97.7M480.6 92.2V94.1M481.5 86.3V91.6M482.5 88.4V92.9M485.3 82.1V87M486.2 82.5V85.5M487 81.5V82.9M487.8 76.6V86.6M492.9 84.8V87.1M494.8 83.3V85.7M496.7 76.1V81.9M497.6 77.4V80.1M498.8 76.4V79.3M500 75.5V77.1M500.8 72.7V74.4M501.8 68.6V75M502.6 71V74.1M503.5 70.4V73.1M504.3 66V73.8M505.3 66.1V71.3M506.1 63.8V67.4M507.3 55.9V67M508.2 64.1V76M509.4 58.8V65.5M510.3 57.8V62.2M511.1 55.8V61.2M513.2 53.3V59.2M514.4 51.4V54.7M516.6 49.6V53.8M517.4 49.9V51.7M518.2 47.3V52.6M519.8 43.7V49M520.6 35.4V44.8M521.5 36.9V40.1M522.5 30.7V40.1M523.5 35V41M526.5 30.3V35.4M527.7 28.3V31.7M528.7 23.3V28.1M535.3 35.8V38.1M536.1 37V41M537 36V39.7M538 30.6V38.2M539 32.3V33.5M541 26.4V31.4M542.2 25.4V27.1M543 24.7V28M544.2 23.4V26.3M545.2 17.4V25.2M552.2 31V34M559.6 39.9V42.1M563.6 50.1V57.9M564.8 52.6V57M566.8 56.1V59M567.8 55.1V57.5M570.4 49V54.4M571.2 44.9V50M577.2 50.4V55.4M583.5 53.3V60.1M584.3 51V58.5M585.3 49.5V52.9M586.2 49.4V51.8M587.4 45.3V52M588.4 45.1V47.8M589.4 42.2V43.2M590.6 37.2V41.9M592.8 33.8V37.7M593.8 33.6V38.1M602.7 65.6V69.8M604.8 67.8V72.5M605.8 62.9V70.7M607 62.5V72.5M608.8 56.3V59.2M614.9 64.6V70.3M615.8 64V74.4M616.6 63.7V67.2M619.7 52.4V57.8M621.7 57.7V61.5M631.9 74.2V80.1M633.1 74.7V78.7M634.1 76.3V78.1M635.1 70.1V79.6M635.9 70.8V81.2M637.1 72.3V76.4M639 67.6V73.7M639.8 67.5V73.9M645.5 71.9V73.8M650.9 81V90.2M661.5 107.9V110M665.6 113.6V117.7M668.7 115.4V117.7M670.9 108.5V116.4M680.5 115.9V118.6M681.3 116.8V124.3M684.6 116.9V121.9M696.8 138.3V141.9M697.8 135.7V139M699.5 132.3V137.3M700.4 129.3V139.1M701.3 127.2V131.1M702.3 121.9V133.6M703.1 120.7V123.4M704.1 113.3V119.2M705.3 110.1V119.9M706.5 105.6V110M708.5 106.5V110.5M710.4 108.9V115.3M716.6 121.8V128.3M718.8 125.3V135.1M725.2 134.7V138.3M726 130.1V138.5M726.8 129.8V135.2M727.8 127.6V129.2M731 119.6V121.5M731.8 116.7V123.9M738.4 120.6V122.6M743.6 132.6V134.8M752.7 139.1V145.3M757.3 144.9V153.7M763.1 145.9V153.8M764 146.9V153.3M764.9 145.2V153.1M766.1 147.7V155M767 148.1V154.7M767.9 146.9V151.3M769.9 143.9V147.2M771.6 143.6V145.7M772.6 141.1V145.2M776.5 141V147.6M785.5 147.2V159.4M787.5 155V159.7M788.3 154.9V158.5M797.3 164.9V169.8M798.2 166.7V172.6M799.4 163.2V169.4M801.1 158.7V165.8M801.9 159.4V163.3M803.9 160.9V165M804.8 160.5V163.4M805.8 158.4V164.3M807.8 158.5V162M808.6 159V162.2M810.7 151.8V160.3M811.5 155.5V160.2M825.5 177.4V186M830.7 188.6V190.8M831.6 180.1V190.8M832.6 184V194.8M833.4 180.6V187.9M834.4 183.1V185.1M835.6 180.7V185.4M836.4 180.1V182.6M837.4 179.5V185.9M844.9 191.2V194.1M845.9 188.5V192.5M846.7 187.8V192.9M849.9 181.1V186.7M851.1 182.4V193.9M852 182.8V188.1M852.9 185.6V195.2M860.3 193.4V198.8M863.2 194.3V199.3M865.4 195.9V197.9M877.1 208.2V212.9M882.6 211.2V217.4M883.6 209.8V220.9M884.4 208.9V212M887.2 200.6V207.6M888.1 199.4V206.8M891.5 201.3V203.7M893.9 192.9V202.6M895.6 196.7V204.7M896.4 197.6V199.6M897.6 197.6V202M898.5 191.8V198.9M901.2 197V199.7M902.4 197.2V202M903.3 195.6V202.8M904.5 192.1V199.4M905.5 192.9V198.4M907.3 194.6V198.9M908.3 193.7V196.6M909.3 180.8V190.3M910.3 178.6V185.8M911.5 174.7V183.3M912.5 163.7V169.9M913.4 159.6V163.5M914.2 152.3V155.9M915 143.3V148.4M916.9 126.6V134.5M917.9 117.2V119.7M919.1 104.8V110.2M920.3 91.6V97.8M931.6 109.2V115.8M932.5 104.8V108.7M933.5 100.3V102.8M934.3 90.8V101.7M935.2 93.3V95.1M936.1 89V96M937.3 82.1V89M938.2 86V89.5M939.2 80.9V87.2M942.1 78V89.4M949.5 109.9V112.6M956.8 120.8V128.5M958.5 120.1V121.6M964.7 120.4V125M965.7 121.8V126.9M969.3 124.4V129M970.1 120.6V126.3M971.3 120V128.4M974.6 109.7V114.4M975.5 107V111.7M976.7 105.9V109.5M977.7 104.1V108.5M978.5 102.2V107.7M979.5 101.7V105M980.3 101.5V105.6M981.1 98.3V104.8M982.3 99.6V102.3M983.1 96V100.8M985.3 96.9V103.5M987 94.1V100M992.7 108.4V111.3M993.9 101.5V105.1M994.7 94.5V101.7M995.5 93.5V98.5M997.4 85.1V87M998.6 78.4V84M999.4 75.4V77M1000.2 70.2V74.3M1011.5 100V108.6M1012.7 102.8V110M1013.9 102.2V109.3M1014.7 101.8V107.8M1015.7 97.8V112M1016.6 98.2V103.3M1028.2 121V125.3M1033.5 123.7V127.5M1035.5 113.3V120.4M1036.5 118.1V122.1M1037.5 120.6V125.4M1041.8 129.3V132.5M1042.7 128.3V133.8M1043.9 127V139.1M1054.8 170.6V172.8M1056 167.6V170.8M1056.8 163.5V166.7M1057.8 162V165M1058.8 158.8V161.4M1059.8 156.3V159.9M1060.7 156.4V159.2M1065.7 164.3V170.4M1066.5 166.8V168.2M1067.5 158.1V164.7M1068.5 157.2V161.3M1069.5 152.3V158.9M1070.5 153.4V156.5M1073.4 163.5V166.5M1076.7 167.6V174.2M1077.9 164.9V168.9M1083.8 175.6V178.3M1085 167.5V174.3M1086.7 168.2V172.8M1087.7 163.9V169.8M1088.9 166.7V171M1089.9 166.6V170.7M1091.7 167.3V173.9M1097.9 175V181M1098.7 180.8V184.3M1107.1 180.2V185.3M1107.9 178.4V185.8M1108.9 174.7V180.5M1110.1 167.5V176.5M1110.9 167.7V171.5M1124.4 196.2V199.6M1125.4 198.2V200.8M1127.2 189.9V193.8M1129.4 179.9V184.7M1130.2 177.9V195.4M1131 174.5V183.3M1132.2 169.9V172.9M1135.3 169.2V182.5M1137 174.5V182.8M1139.7 186V192.2M1146.6 191.8V195.1M1148.3 191.4V195.1M1149.1 191.2V193.3M1151.2 184.2V191.3M1152.2 184.2V191M1154.3 179V186.5M1160.5 188V194.4M1161.7 185.8V190.1M1169.2 194.4V200.2M1170.1 193.8V197.1M1171 191.5V195.4M1172 189.3V194M1173 187V190.2M1173.9 184V190.1M1176.9 190.5V197.4M1181.6 192V198.7M1182.4 194.9V201.7M1183.3 193.8V197.2M1185.1 188.2V198.7M1186.1 186V197.9M1187.3 180.8V185.9M1189.1 174.7V178.9M1190.9 166V170.6M1197.3 182.6V186.1M1199.1 182V186.5M1200 181.6V184.2M1207.2 182V188.8M1208.4 175.4V182.4M1209.2 176.5V180M1210.4 170.8V176.8M1211.2 171.9V175.4M1213.4 177.4V179.7M1215.9 178.2V187.8M1216.7 172V178.2M1217.6 162.3V169M1224.5 163.6V166.8M1225.7 161.1V167.2M1226.6 157.7V162.2M1228.8 153.5V157.3M1229.7 149.4V152.2M1230.9 146.3V150.6M1231.8 143.6V146.4M1236.7 150.7V156M1244.3 160.7V166.9M1245.1 154V160.9M1246.3 150.9V159.6M1247.1 150.1V156.2M1248 152.7V155.7M1248.8 147.3V152.4M1249.6 148.2V151.1M1250.6 144.9V150.5M1251.5 142.8V144.8M1253.7 138.4V154.3M1255.8 138.7V142.5M1262.5 144.7V151.8M1263.7 146.3V149.3M1264.9 140.7V146.2M1266.5 139.5V151.8M1267.7 137.1V138.8M1268.6 135.2V140.1M1271 129.8V132.2M1272.2 127.7V130.4M1281.1 139.1V144.4M1284 151.8V156.8M1294.3 161.1V164.6M1295.2 158.8V160.2M1296 155.9V161.4M1296.8 153V156.1M1297.8 151.9V160.1M1298.8 147.5V152.3M1299.6 146.4V149.1M1300.8 143.5V150.7M1303.5 145.2V149.1M1308 150V155.1M1308.9 150.7V155.9M1309.9 150.7V153.6M1310.7 146.2V154.6M1320.6 158.8V163.1M1321.8 152.8V161.8M1328.3 163.4V168.4M1329.5 158.1V163.7M1330.3 157.2V159.7M1332.1 155.5V158.2M1336.3 168.9V174.4M1337.3 171.3V174.7M1338.3 166.1V171.8M1343.2 169.2V172.2M1355.7 188.1V190.3M1356.5 182V193.3M1358.3 179.4V184.7M1359.5 177.7V179.3M1360.7 173.8V175.8M1361.6 173.9V176.6M1362.4 166.9V173.5M1363.4 169.9V171.6M1364.4 167.5V170.6M1365.6 168.8V171.3M1367.8 160.6V164.4M1368.6 160.5V165.6M1369.5 158.9V162.1M1370.7 156.9V159.5M1371.9 151V158.1M1373.8 157.5V163.6M1377.4 172.3V175.2M1381.9 173.1V175.5M1383.1 173.1V179.8M1384 168.2V175.3M1384.9 164.2V169.5M1385.8 164V165.9M1387 158.5V161.3M1393.4 178.4V182.7M1398.4 178.6V191.3M1406.1 183.3V188.1M1407.1 181.5V183.5M1408.1 180V182.3M1410.3 173.7V179.8M1411.9 175.1V183.2M1414.5 175V180.5M1416.3 184.3V187.3M1419.5 186.9V191.3M1420.4 187.2V191M1421.4 182.8V187.8M1423.3 179.2V181.5M1424.3 176.8V180.6M1425.3 173.2V180.3M1432.2 186V188.2M1433.8 186.5V189.5M1434.8 185.6V190.2M1436.8 183.1V189.6M1437.6 178.3V186.9M1444.8 190.9V194.6M1462.3 195.7V198M1464 194.1V206.9M1464.9 191.6V194.3M1465.8 188.6V192.7M1467 188.1V193M1469.1 184.6V187M1475.5 188.2V197.3" stroke="#9a9a9a" stroke-width="0.8" fill="none"/>
<path d="M0 187.4V193.7M1.2 195.7V198M2.4 188.6V199.3M3.2 198.4V200.1M4.4 198.6V203.3M5.6 202.6V206.7M7.6 204.2V207.5M13.6 192.7V204.6M14.5 202V214.2M15.3 200.2V205.6M16.2 202V205.8M18 205.5V213.4M19.2 204.6V208.2M20 205.4V210.2M21 208.9V210.8M21.8 208.8V213M22.7 211.8V219.6M23.5 211.6V218.8M29.6 200.2V205.5M33.7 192.8V199.9M35.4 194.6V196.9M36.2 190.9V196M37.2 192.5V196.4M39.4 194.9V197.5M40.4 196V199M41.3 195.2V201.4M42.3 199.6V202.3M44.3 189.4V202.9M45.1 199.1V207M46.1 203.6V207.5M47 204.3V206.8M47.9 205.6V210.1M50.9 203.2V208.6M53.5 199.8V202.3M61.9 187.3V189.3M62.9 183.8V189.9M63.8 187.1V192.5M64.6 184.8V190.5M65.6 189.1V195.3M66.8 189.9V193M71.2 183.4V186.3M81.1 163.1V173.2M82.1 167V170.6M83 166.4V171.8M83.8 167.2V173.9M84.6 170.1V183.2M85.6 177.4V182.8M86.4 181.6V183.6M87.2 182.7V187.4M88 183V191.8M88.8 188.2V190.3M91.2 177.9V187.8M92.1 184V186.9M102.2 173V179M103.2 172.5V174.5M104.2 167V174.5M114.1 164.5V170.2M115.3 165.2V168.9M116.3 163.4V171.7M117.3 165.4V167.8M118.5 165.7V171.3M119.7 167.7V174.4M120.7 166.2V173M124.9 151.9V157.5M126.6 145.7V150.1M127.4 144.6V147M130.6 131.1V134.6M131.6 133.2V138.9M132.6 134.8V142.2M133.5 142.6V148.5M134.5 151.5V154.3M136.1 156.6V161.4M136.9 157.4V167.2M137.9 164.2V171.4M138.7 173.2V178M139.5 179.3V183M140.5 175.2V178.1M141.7 167.4V175.5M147.4 163.6V165.2M149.1 163.2V175M149.9 166.7V170.2M150.9 165.3V169.4M151.9 167.7V173M152.8 168.5V173.9M153.7 171.4V173.3M158.5 156.7V164M161.1 163.1V165.4M161.9 158.3V165.5M162.8 163V168M163.8 167V171.7M164.8 169.5V173.7M165.6 167.5V172.4M166.6 170.6V173.1M173.3 151.4V153.2M174.5 144.2V155.4M175.5 142.3V152.7M176.5 141.8V146.8M177.3 145.3V149.3M178.3 145.3V156.7M179.1 143.2V153.6M180 148.7V161.4M181 157.9V165.6M182.2 161.6V163.5M183.4 161.4V167.8M184.4 157.5V170.2M185.2 163.4V168.1M186 165.4V168.8M187.2 165.3V167.4M189.2 158.4V174.8M193.9 155.7V158.8M197.9 147.3V154.2M198.8 149.5V151.6M199.6 152V157.6M200.8 153.9V157.6M201.6 154.4V161.8M202.4 161.1V163.4M203.4 162.9V164.7M204.3 163.8V166.6M205.1 164.5V168.6M206.3 167.4V173.6M207.3 171.3V173.9M208.1 172.6V178.5M209 174V177.6M209.9 173.9V182.4M211.1 185.4V194.2M212 192.4V194.9M212.9 194.5V203.2M213.7 200.3V202.8M214.7 199V203.9M215.6 204.4V206.2M216.4 200.5V208M217.3 203.7V209.8M218.5 205.6V210.1M219.7 205V211M221.5 195.8V206.4M222.3 193.7V202.6M223.3 195.4V201M225.9 197.9V200.8M226.7 197.4V202.4M227.6 198.1V208M228.5 205.4V209.5M229.5 206.9V210.4M230.4 202.7V209M232.5 202.8V211.5M236.2 198.5V204.4M237.4 197.6V209.2M238.4 204.9V213.4M239.6 208.1V209.7M240.8 208.5V217.8M242.6 205.2V212.6M244.5 195.5V208.8M248.8 186.8V195.8M250 179.4V188.8M251 181.1V190.6M253.2 186.1V193M254.4 191.1V196.1M255.3 194.2V201.3M256.2 193.5V201.8M257.2 196.1V204.8M258.4 199.2V203.5M259.2 204.5V207.8M261 206.2V208.6M262 207.9V210.7M263 208.4V212.9M268.8 200.8V211M270.9 197V201.4M274 191.4V200.3M275.2 193.4V197.4M276.1 190.2V196.7M277 194.9V197.5M277.8 189.8V197.2M278.8 192.6V197.4M282.9 192.7V197.6M283.7 189.6V193.5M289.2 181.5V190.5M290 178.2V183.2M292.8 169.8V175.5M295.8 164.2V167.5M297.5 158.8V164.5M298.3 164.1V173.9M299.2 167.3V170.1M300.4 169.6V178.1M301.3 170.8V178.8M302.3 178.2V184.8M303.5 183.1V187.6M305.5 185.8V188.6M306.3 189.3V194.5M307.1 187.4V208.3M308 192.7V196.4M309 196.2V199.9M317.2 181.2V183.6M320.6 166.5V172.3M322.4 162V166.6M323.2 165.3V175.4M325 170V171.5M326 175.4V178.1M326.8 178.3V187.3M328.7 181.8V184.4M329.6 185.9V188.2M330.5 184.5V187.7M332.4 180.6V189M346.6 155.4V169.2M348.3 156.5V162.6M350.5 158.1V163.2M351.3 159.3V163.5M353 156.2V164.7M354 161.7V169.2M355 164.1V166M356.2 165.1V167.2M357 163.9V166M358.9 162.3V164.7M362.8 159.1V162.6M364 155V158.3M364.9 154.2V158.5M368.1 150.9V156.8M369.1 147.4V155.5M370 153.4V161.4M371 156.7V163.4M372 162.4V165.7M372.8 161.8V167.7M376.5 146.2V162.1M377.4 154.3V160.7M378.6 156.4V158.6M379.6 157.4V161.2M380.4 159.8V162.7M382 163.7V167.5M382.9 166.1V168.5M383.9 169.2V172.3M384.9 172V174.3M385.8 169.7V174.5M387 169.2V181.8M388.8 169.2V175.8M393.9 167.5V172.2M394.8 166.4V171.2M402.1 165.1V167.9M403.8 165.4V167.6M405.5 163.7V170.7M406.3 158.4V166.8M407.2 162.7V170.2M408 165V167.5M409.2 166.5V169.9M410.2 168.7V180.4M411.2 169.4V175.1M412.4 167.9V177.2M413.6 171.6V176.4M414.4 170.5V176.3M417.4 168.2V176.4M419.2 171.1V177.4M423.4 169.7V173.3M424.6 167.4V169.3M425.5 167.3V171.6M430.6 169.6V173.5M431.6 148.1V166.3M439.5 131.1V135.9M442.4 127.3V129M443.6 125V132.2M444.4 127.3V128.7M445.3 122.7V125.1M447.5 121.1V129.3M448.3 121.1V132.6M449.5 118.2V126.8M450.3 120.2V122.6M451.1 118.1V126.3M452.1 117.4V121.8M453 119.6V122.3M453.9 121.2V124.8M455.1 120.4V125M456.3 120.6V124.3M461.1 105V115.2M465.9 100.4V109.4M466.7 103.3V105.5M467.6 107.1V109.8M468.6 107.4V112.2M469.5 109.7V114.2M470.7 108.6V117.2M471.7 113.1V115M474.1 106.4V115.2M477.8 97V105.9M483.7 85.3V91M484.5 84.6V89.6M488.6 79.4V85.9M489.8 79.6V86M490.7 82.2V85.4M491.9 80.9V86M493.8 86.6V89.2M495.8 83V88M512 54.8V67.2M515.4 52.7V57.5M519 41.5V48.4M524.4 30.2V36.6M525.3 31.9V39.1M529.7 27.9V29.8M530.7 28V32.3M531.6 31.1V35.3M532.5 34.3V39M533.3 31.2V41.2M534.1 36.7V44.8M540.2 30.1V34.1M546.4 17.9V25.8M547.6 17.2V22.1M548.8 20.4V25.6M549.8 24V27M551 25.2V28.7M553.4 33.4V44.8M554.2 35.6V39.2M555.2 35.8V38.5M556.4 37.3V42.5M557.6 34V41M558.4 34.6V44.5M560.6 41.8V50.2M561.6 42.7V45M562.8 46.2V49.8M565.6 53.9V63.8M568.7 52.2V55.7M569.5 50.4V54.8M572.4 41.7V47.3M573.2 42.6V57M574.1 50.9V55.5M575 50.8V53.6M576.2 50.8V54.8M578.2 54V59.1M579.1 55.6V63.5M580.3 59.2V63.2M581.3 60.9V63.5M582.3 61.8V64.8M591.8 35.6V37.9M594.6 30.1V33.3M595.6 26.8V32.6M596.4 34.2V39.4M597.2 35.7V43.2M598.1 38.9V42.1M599 39.8V45.5M599.9 43.9V53.5M600.8 51.6V56.3M601.8 57.2V60.3M603.6 69.8V72.3M607.8 60.7V63.9M609.6 58V70.3M610.4 54.9V62.3M611.6 61.5V65.9M612.8 66.8V68.8M613.7 69.4V72.4M617.5 61.6V65.6M618.7 58.7V60.8M620.7 51V59.9M622.9 60.3V63.5M624.1 60.9V66M625 61.1V66M625.8 62.2V69.9M626.8 64.5V82.5M627.7 66.5V70M628.7 71.2V75.1M629.9 73V78.7M630.9 76.1V80.5M638.1 68.1V75.4M640.7 68.3V76.8M641.6 72.6V75.1M642.6 72.4V74M643.5 68.8V77.1M644.5 71.7V74.2M646.3 70.5V75.3M647.1 73.9V77.9M647.9 73.8V77.6M648.9 74.1V84.3M649.9 81.2V85M651.8 84.2V93.5M653 82.6V97.5M653.9 87.9V95M655.1 95.6V101.4M655.9 95.4V102.5M656.9 100.1V103.9M658.1 92.1V107.2M659.3 102.2V105.4M660.3 103.1V107.2M662.4 110.1V121.5M663.6 109.9V112.2M664.4 107.7V115.8M666.8 114.4V116.8M667.8 113.5V121.4M669.7 110.5V119.4M671.9 114.8V118.4M672.9 114.6V121.9M673.8 114.8V118.4M674.8 111.8V116.5M675.6 111.2V117.2M676.4 113.2V117.8M677.3 103.7V119.2M678.1 113.4V120.7M679.3 113.9V121.7M682.5 116.4V121.1M683.4 118V122.6M685.4 120.8V123.2M686.2 121.1V123.6M687.2 119.3V124.8M688.1 117.8V127.7M688.9 127.5V133.3M690.1 129.2V131M691.1 123.6V135.1M692.3 134.6V135.9M693.1 135.9V138.8M694 137.6V145.9M694.9 142.6V153.4M695.9 140.1V146.9M698.6 135.5V138M707.7 103V107.6M709.5 110.4V112.8M711.6 113.6V116.1M712.6 111.5V118.4M713.4 118V121.9M714.6 119.9V125.2M715.4 120.1V125.2M717.6 120.5V131.2M720 126.8V138.8M721 126.5V139.3M721.9 130.1V133.2M722.7 129.3V138M723.5 131.5V135M724.4 130.9V136.6M728.8 125.7V127.7M730 121.7V123.8M732.7 109.7V117.6M733.5 106.1V114.6M734.7 112.2V120.9M735.5 106.9V113.6M736.4 114.4V118.7M737.6 114.7V122.2M739.2 119.4V132M740 119.3V127M741.2 127.1V131.4M742.4 128.8V132.2M744.4 132.2V135.2M745.6 132V136M746.4 130.8V136.8M747.6 132.6V137.6M748.8 133.8V138.4M750 133.3V150.4M751 131.7V146.7M751.8 139.7V147.3M753.7 141V151.9M754.9 143.5V145.9M756.1 141.5V147.7M758.2 147.4V150.2M759.1 148.4V151.8M759.9 147.6V152.4M761.1 150.4V154.8M762.1 153.1V156.8M768.7 146.6V151M770.7 143V145.4M773.5 140.1V145.1M774.7 141.5V143.7M775.6 142.1V149.9M777.3 147.7V150.6M778.3 146.4V150.7M779.3 151.9V156.8M780.3 152.5V156.9M781.3 152.4V157.2M782.3 157.6V163M783.3 159.3V165M784.5 153.7V161.9M786.5 153.4V159.6M789.1 149.8V158.3M790 148.6V157.8M790.8 157.9V160.8M791.6 152.9V163.2M792.8 162.9V165.5M794 164.1V166.6M794.9 170.3V180.5M796.1 163.7V172.7M800.2 163.9V166.7M802.7 161.4V163.6M806.8 160.3V163M809.5 158.8V161M812.5 157.5V164.9M813.5 151V157.7M814.3 154.5V156.5M815.2 157.5V159.8M816.2 160V166.2M817.4 162.8V171.1M818.3 167.9V171.3M819.2 173.7V177.7M820.2 178.4V181.2M821.4 176.6V181.7M822.6 175.8V183.6M823.5 176.5V182.9M824.7 182V189.7M826.4 185.1V187.2M827.3 187.3V193.4M828.1 187.9V189.1M829 188.7V193M829.8 187.3V190.4M838.3 179.1V183.5M839.1 177.3V179.9M840.1 178.2V189.3M841 184.3V189.1M841.9 183.9V190.6M842.9 187.7V191.3M843.7 189.3V193.3M847.9 185.8V200.1M848.9 185.3V191.2M853.7 186.9V194.6M854.5 183.7V190.4M855.4 187.8V193.4M856.2 182.6V191.5M857.2 191.5V192.8M858.4 187V197.5M859.4 193V194.7M861.5 193.3V197M862.4 192.2V195.9M864.2 191.1V203.3M866.4 194.4V197.9M867.6 195.6V205.3M868.5 196.6V205.9M869.3 194.3V199.8M870.1 196.3V200.3M871.3 198.3V207.2M872.1 198.8V201.3M873 200.4V202.9M873.8 203.9V216M874.7 205.2V209.8M875.9 206.3V211.3M878.3 208.7V217.1M879.3 212.8V218.9M880.2 217V222M881.4 213.5V219.3M885.3 207.4V213.3M886.2 205.1V211.2M889.1 201.1V206.5M890.3 202V205.7M892.7 199.1V201.9M894.8 198.3V204.4M899.4 197V199.2M900.4 196.2V208.3M906.5 193.4V198.3M915.9 136.4V138.6M921.5 92.2V95.8M922.7 90.6V94.1M923.9 88.1V90.3M925.1 89.9V96.3M926.3 97.1V103.3M927.1 99.4V107.1M928 105.7V112.7M929 109.6V116.5M929.8 116.2V121.2M930.8 112.9V120.3M940.4 79.2V83.4M941.2 75.3V81.9M943.3 87V91.5M944.3 92.9V97.5M945.2 96.6V99.6M946.1 98.6V103.9M947.1 102.6V106.9M948.3 105.4V107.8M950.4 112V115.4M951.6 115.6V118.9M952.4 115.1V118.4M953.2 113.6V120.7M954 117.6V122.2M954.8 118.9V125.7M955.8 121.2V129.2M957.7 115.3V123.9M959.5 116V120.5M960.5 114.3V119.4M961.5 112.9V118.5M962.7 115.3V116.9M963.5 114.2V119.7M966.5 124.5V135.6M967.7 130.8V135.1M968.5 129.2V130.9M972.5 115.8V117.9M973.7 113.5V121.7M984.1 97.5V100.5M986.1 92.8V99.5M988.2 96.3V99.5M989 99.5V103.3M989.8 103V106.4M990.6 106.4V110M991.8 111V115M996.4 89.8V93.2M1001.4 73.7V77.9M1002.6 77V79.3M1003.6 80.5V82.4M1004.5 75.3V85.8M1005.3 81.5V90.9M1006.5 91.9V97M1007.5 95.7V100.9M1008.4 98.9V105.3M1009.3 96.5V106.3M1010.3 100V108.3M1017.4 100.1V105.2M1018.4 96.6V109.2M1019.6 102.3V104.5M1020.4 104.3V106.8M1021.4 105.7V108.6M1022.6 106.3V111.3M1023.5 111.3V113.8M1024.3 113.9V116.1M1025.2 116.6V118.5M1026.4 113.7V122.8M1027.3 120.5V123.3M1029.2 122.2V129.9M1030.1 125.5V128.6M1031.3 127.6V132.9M1032.5 126.3V131.4M1034.7 119.3V125.1M1038.3 123.2V129.9M1039.1 127.3V130.1M1040 133.1V140.4M1040.9 129.9V135M1045.1 126V129.3M1046.1 125.2V129.3M1047.1 126.9V138.7M1048.1 140.8V149.1M1049 147.2V150.6M1050 156V158.4M1050.9 158.3V161.5M1052.1 162.8V166.2M1053 168.6V171.5M1053.8 171V174.4M1061.9 158.4V162.4M1062.9 158.3V163.3M1063.9 158.3V163.8M1064.7 158.8V168M1071.5 157.3V159.9M1072.5 158.7V164.4M1074.6 166.7V171.4M1075.8 172.4V175.3M1078.8 163.8V170.3M1080 159.6V170.3M1081 165.1V175.2M1081.8 179.2V180.8M1082.6 176.7V182.8M1085.9 165.9V174.7M1090.8 169.2V172.3M1092.6 171.2V175.4M1093.5 172.5V175.6M1094.4 173.2V181.8M1095.2 173.4V182.8M1096.1 173.7V181.2M1096.9 178.2V181.4M1099.9 179.6V183.2M1100.9 182V191.3M1101.9 182.8V187.4M1102.8 186.3V188.8M1103.7 186.7V189.3M1104.9 185.4V193M1105.9 187.7V189.4M1112.1 158.7V166M1113.3 166.9V169.6M1114.5 169.7V177.1M1115.4 172.9V182.3M1116.6 178.5V183.4M1117.8 185.2V190M1118.7 188.8V191.2M1119.6 188.3V190.1M1120.6 190.9V193.4M1121.6 186.9V203.7M1122.5 191.1V196.4M1123.4 192.4V199.2M1126.3 187.6V195.7M1128.2 187V190.9M1133.4 165.9V169.7M1134.3 167.7V170.2M1136.2 170.1V178M1137.8 179V182.3M1138.8 182.1V186.7M1140.7 186.1V190.9M1141.5 188.5V190.8M1142.5 190.1V192.7M1143.5 189.9V194.7M1144.7 190.5V193.2M1145.7 192V197.6M1147.5 191.6V194.8M1150 187.5V195.4M1153.1 182.9V189.6M1155.3 180.7V184.8M1156.3 182.9V186M1157.5 184.3V191.5M1158.3 186.9V188.5M1159.3 188.9V191M1162.6 182.3V188.7M1163.4 180.6V184.6M1164.3 182.1V186.1M1165.1 184.3V185.9M1166.3 189.4V192.5M1167.1 193.7V196.6M1168.3 197.4V210.4M1174.9 185V192.4M1175.9 189.2V195.2M1177.8 192V196.4M1178.7 193.4V198M1179.5 194V197.1M1180.7 195.5V201.1M1184.2 191.7V195.3M1188.3 179V183.9M1189.9 172.8V183.2M1191.7 170.6V173.2M1192.6 173.2V177.2M1193.5 175.6V179.8M1194.5 179.1V186.2M1195.5 184.1V187.8M1196.5 184.5V189.2M1198.3 183.9V186.7M1200.9 178.1V181.3M1201.8 178.1V180.5M1202.8 179.7V183.9M1204 178.5V188.2M1204.8 184.3V191.2M1206 190.2V195.9M1212.4 172.5V176M1214.2 181.2V184.6M1215 185.4V191.6M1218.5 155.6V163.4M1219.7 150V162.8M1220.9 159.1V164.5M1221.7 159.9V164.2M1222.9 162.8V166.9M1223.7 164.3V167.4M1227.6 154.3V158.2M1232.8 146.9V154.8M1233.8 147.3V149.8M1234.6 145.1V152.7M1235.8 150.9V156.1M1237.5 148.5V157.5M1238.4 150.9V155.6M1239.6 153.9V160.1M1240.5 157.3V160.3M1241.5 158.4V163M1242.5 158.3V166.1M1243.4 160.6V167.1M1252.7 138.9V146.6M1254.6 139V142.4M1256.6 136.6V139.2M1257.6 135.5V142.4M1258.4 142.6V146.8M1259.6 140.5V148.6M1260.5 148.7V150.8M1261.5 150.9V154.6M1265.7 142.6V148.6M1269.8 132.1V135M1273.4 116.7V125.8M1274.4 119.9V124.4M1275.2 119V121.5M1276.1 121.7V129.4M1277.3 129.3V134.1M1278.3 131.3V134.2M1279.2 135.8V141.9M1280.2 139.5V142.5M1282.1 146.3V154.5M1283 146.2V149.5M1284.8 154.9V159.4M1285.8 153.9V164.8M1286.7 156.8V171.5M1287.7 156.9V164.3M1288.6 162.5V168.8M1289.4 162.7V169.6M1290.2 165.3V168.3M1291.4 166.9V177.7M1292.6 166V170.9M1293.5 158.9V167.4M1301.7 142.6V146.1M1302.7 143.1V145.6M1304.3 147.5V150.7M1305.2 148V151.2M1306 151.5V152.8M1307 151.8V156.4M1311.5 148V150.2M1312.7 151.3V153.2M1313.5 145.7V154.2M1314.4 150V156.5M1315.2 156.2V160.5M1316 156.9V159.4M1317 156.5V162.2M1318.2 160.7V163.1M1319.4 157.8V160.1M1322.8 155.9V165.5M1323.8 155.3V158.4M1324.8 158.6V161.6M1325.6 158.7V163.2M1326.4 159.9V162.1M1327.3 160.5V166.4M1331.3 154.4V158.8M1333.1 161.6V164.6M1334.3 166.1V172M1335.1 173.6V175.7M1339.5 166.8V170.1M1340.4 163.8V170M1341.2 165.6V170M1342.4 169.6V171.7M1344.1 169.8V176.4M1345 168.5V178.1M1346 168.6V178.3M1347.2 167.1V176.7M1348 173.3V177.6M1349 175.6V179M1350.2 179.2V182.6M1351.4 176.3V182.7M1352.2 181.6V185.2M1353 184.2V188.6M1353.8 186V189.6M1354.8 186.4V189.8M1357.3 184.4V185.7M1366.6 162V168.4M1372.9 154.1V160M1374.7 161.8V164.2M1375.5 164.4V168.8M1376.4 166.1V169.8M1378.6 174V178.5M1379.5 173V179.7M1380.3 172.7V177.3M1381.1 172V174.9M1388.2 163.3V164.8M1389.4 163.8V171.8M1390.6 172.9V176.3M1391.4 174V183.1M1392.4 176.8V183.2M1394.6 179.3V181.5M1395.5 181.6V183.1M1396.7 182.6V184.2M1397.6 181.2V184.6M1399.4 183.1V185M1400.6 180.6V186.9M1401.5 181.8V187.5M1402.4 182V186.9M1403.3 183.2V186.3M1404.1 178.8V186.5M1405.3 178.6V191.8M1409.1 177.1V183.6M1411.1 175.6V179.3M1412.8 170.1V173M1413.6 173.1V178.3M1415.4 177.9V181.6M1417.5 187.2V191.3M1418.7 189.7V192.5M1422.4 182.5V186M1426.1 172.9V177M1427.1 176.9V179M1428.3 176.6V180.2M1429.2 178.4V183.1M1430.2 181.4V184.7M1431 183.3V186.6M1433 180.6V190.1M1436 184.4V188.2M1438.5 181.5V187M1439.7 182.2V186.1M1440.7 183.4V190.3M1441.5 182.2V188.8M1442.7 188V191.2M1443.6 189.3V196M1445.6 189.9V195.5M1446.6 191.6V199.5M1447.4 187.8V194.2M1448.6 188.9V199.9M1449.8 191.3V194.9M1450.8 191.8V193.3M1451.8 187.3V194.7M1452.8 188.3V201.3M1453.7 191.2V196M1454.7 193.1V196.1M1455.6 193.6V196.8M1456.8 192V195.8M1458 192.4V194.9M1458.9 191.9V196.5M1459.7 193.8V197.5M1460.5 193.5V197M1461.3 194.9V198.8M1463.1 193.6V196.2M1468.2 186.8V193.9M1470 181.9V185.9M1470.8 183.6V189.1M1471.7 186.3V190.4M1472.9 186.7V196.6M1473.7 188.4V190.1M1474.5 190.7V193.1" stroke="#000" stroke-width="1" fill="none"/>
<path d="M10.4 187.4h3.6v5.4h2l-3.8 5.2l-3.8-5.2h2z" fill="#cc55ee"/><path d="M7.9 199h8.6" stroke="#cc55ee" stroke-width="1.3"/>
<text x="12.2" y="182" fill="#cc55ee" stroke="#cc55ee" stroke-width="0.35" font-size="9.3" text-anchor="middle" textLength="110" lengthAdjust="spacing">Close entry(s) order long</text>
<path d="M18.9 187.4h3.6v5.4h2l-3.8 5.2l-3.8-5.2h2z" fill="#cc55ee"/><path d="M16.4 199h8.6" stroke="#cc55ee" stroke-width="1.3"/>
<text x="20.7" y="182" fill="#cc55ee" stroke="#cc55ee" stroke-width="0.35" font-size="9.3" text-anchor="middle" textLength="110" lengthAdjust="spacing">Close entry(s) order long</text>
<path d="M204.5 150.1h3.6v5.4h2l-3.8 5.2l-3.8-5.2h2z" fill="#cc55ee"/><path d="M202 161.7h8.6" stroke="#cc55ee" stroke-width="1.3"/>
<text x="205" y="144.7" fill="#cc55ee" stroke="#cc55ee" stroke-width="0.35" font-size="9.3" text-anchor="middle" textLength="110" lengthAdjust="spacing">Close entry(s) order long</text>
<text x="205" y="130.8" fill="#cc55ee" stroke="#cc55ee" stroke-width="0.35" font-size="9" text-anchor="middle">-1</text>
<path d="M300.2 163h3.6v5.4h2l-3.8 5.2l-3.8-5.2h2z" fill="#cc55ee"/><path d="M297.7 174.6h8.6" stroke="#cc55ee" stroke-width="1.3"/>
<text x="302" y="157.6" fill="#cc55ee" stroke="#cc55ee" stroke-width="0.35" font-size="9.3" text-anchor="middle" textLength="110" lengthAdjust="spacing">Close entry(s) order long</text>
<text x="302" y="143.7" fill="#cc55ee" stroke="#cc55ee" stroke-width="0.35" font-size="9" text-anchor="middle">-1</text>
<path d="M600.5 41.3h3.6v5.4h2l-3.8 5.2l-3.8-5.2h2z" fill="#cc55ee"/><path d="M598 52.9h8.6" stroke="#cc55ee" stroke-width="1.3"/>
<text x="601.2" y="35.9" fill="#cc55ee" stroke="#cc55ee" stroke-width="0.35" font-size="9.3" text-anchor="middle" textLength="110" lengthAdjust="spacing">Close entry(s) order long</text>
<text x="601.2" y="22" fill="#cc55ee" stroke="#cc55ee" stroke-width="0.35" font-size="9" text-anchor="middle">-1</text>
<path d="M1030.7 100.4h3.6v5.4h2l-3.8 5.2l-3.8-5.2h2z" fill="#cc55ee"/><path d="M1028.2 112h8.6" stroke="#cc55ee" stroke-width="1.3"/>
<text x="1033" y="95" fill="#cc55ee" stroke="#cc55ee" stroke-width="0.35" font-size="9.3" text-anchor="middle" textLength="110" lengthAdjust="spacing">Close entry(s) order long</text>
<text x="1033" y="81.1" fill="#cc55ee" stroke="#cc55ee" stroke-width="0.35" font-size="9" text-anchor="middle">-1</text>
<path d="M1331.7 139.6h3.6v5.4h2l-3.8 5.2l-3.8-5.2h2z" fill="#cc55ee"/><path d="M1329.2 151.2h8.6" stroke="#cc55ee" stroke-width="1.3"/>
<text x="1333" y="134.2" fill="#cc55ee" stroke="#cc55ee" stroke-width="0.35" font-size="9.3" text-anchor="middle" textLength="110" lengthAdjust="spacing">Close entry(s) order long</text>
<text x="1333" y="120.3" fill="#cc55ee" stroke="#cc55ee" stroke-width="0.35" font-size="9" text-anchor="middle">-1</text>
<text x="15.8" y="168.5" fill="#cc55ee" stroke="#cc55ee" stroke-width="0.35" font-size="9.3" text-anchor="middle" textLength="16.5" lengthAdjust="spacing">-1-1</text>
<path d="M18.4 203v7l-4.8-3.5z" fill="#cc55ee"/>
<path d="M26.4 203v7l-4.8-3.5z" fill="#cc55ee"/>
<path d="M211.6 169.8v7l-4.8-3.5z" fill="#cc55ee"/>
<path d="M306.9 180.7v7l-4.8-3.5z" fill="#cc55ee"/>
<path d="M607.6 63v7l-4.8-3.5z" fill="#cc55ee"/>
<path d="M1038.1 124v7l-4.8-3.5z" fill="#cc55ee"/>
<path d="M1338.9 156.2v7l-4.8-3.5z" fill="#cc55ee"/>
<path d="M23.9 197.3v7.4l5.2-3.7z" fill="#1e90ff"/>
<path d="M289.2 161.8v7.4l5.2-3.7z" fill="#1e90ff"/>
<path d="M313.9 167.5v7.4l5.2-3.7z" fill="#1e90ff"/>
<path d="M905.8 163.6v7.4l5.2-3.7z" fill="#1e90ff"/>
<path d="M1214.1 156.7v7.4l5.2-3.7z" fill="#1e90ff"/>
<path d="M16 206l4 5.2h-1.9v5.3h-4.2v-5.3h-1.9z" fill="#1e90ff"/>
<text x="16.2" y="225.1" fill="#1e90ff" stroke="#1e90ff" stroke-width="0.35" font-size="9.3" text-anchor="middle" textLength="16.6" lengthAdjust="spacing">long</text>
<text x="16.5" y="236.1" fill="#1e90ff" stroke="#1e90ff" stroke-width="0.35" font-size="8.6" text-anchor="middle">+1</text>
<path d="M29.4 211.8l4 5.2h-1.9v5.3h-4.2v-5.3h-1.9z" fill="#1e90ff"/>
<text x="29.5" y="231.6" fill="#1e90ff" stroke="#1e90ff" stroke-width="0.35" font-size="9.3" text-anchor="middle" textLength="16.6" lengthAdjust="spacing">long</text>
<text x="29.8" y="242.6" fill="#1e90ff" stroke="#1e90ff" stroke-width="0.35" font-size="8.6" text-anchor="middle">+1</text>
<path d="M294.6 177l4 5.2h-1.9v5.3h-4.2v-5.3h-1.9z" fill="#1e90ff"/>
<text x="294.4" y="197.7" fill="#1e90ff" stroke="#1e90ff" stroke-width="0.35" font-size="9.3" text-anchor="middle" textLength="16.6" lengthAdjust="spacing">long</text>
<text x="294.7" y="208.7" fill="#1e90ff" stroke="#1e90ff" stroke-width="0.35" font-size="8.6" text-anchor="middle">+1</text>
<path d="M319.6 181.3l4 5.2h-1.9v5.3h-4.2v-5.3h-1.9z" fill="#1e90ff"/>
<text x="319.4" y="201.4" fill="#1e90ff" stroke="#1e90ff" stroke-width="0.35" font-size="9.3" text-anchor="middle" textLength="16.6" lengthAdjust="spacing">long</text>
<text x="319.7" y="212.4" fill="#1e90ff" stroke="#1e90ff" stroke-width="0.35" font-size="8.6" text-anchor="middle">+1</text>
<path d="M912 178.6l4 5.2h-1.9v5.3h-4.2v-5.3h-1.9z" fill="#1e90ff"/>
<text x="910.8" y="197.8" fill="#1e90ff" stroke="#1e90ff" stroke-width="0.35" font-size="9.3" text-anchor="middle" textLength="16.6" lengthAdjust="spacing">long</text>
<text x="911.1" y="208.8" fill="#1e90ff" stroke="#1e90ff" stroke-width="0.35" font-size="8.6" text-anchor="middle">+1</text>
<path d="M1220 175.5l4 5.2h-1.9v5.3h-4.2v-5.3h-1.9z" fill="#1e90ff"/>
<text x="1219.5" y="195" fill="#1e90ff" stroke="#1e90ff" stroke-width="0.35" font-size="9.3" text-anchor="middle" textLength="16.6" lengthAdjust="spacing">long</text>
<text x="1219.8" y="206" fill="#1e90ff" stroke="#1e90ff" stroke-width="0.35" font-size="8.6" text-anchor="middle">+1</text>
</g>
<path d="M0 235.5H1529" stroke="#555" stroke-width="1"/>
<path d="M1477.5 0V261" stroke="#555" stroke-width="1"/>
<path d="M110.1 235.5v4.5M241.6 235.5v4.5M373.2 235.5v4.5M504.7 235.5v4.5M636.2 235.5v4.5M767.7 235.5v4.5M899.3 235.5v4.5M1030.8 235.5v4.5M1162.3 235.5v4.5M1293.8 235.5v4.5M1425.4 235.5v4.5M1.5 235.5v4.5M1477.5 7.5h4.5M1477.5 60.5h4.5M1477.5 95.5h4.5M1477.5 137.5h4.5M1477.5 176.5h4.5M1477.5 207.5h4.5" stroke="#555" stroke-width="1"/>
<rect x="1478" y="181.5" width="49.5" height="16.3" fill="#000"/>
<path d="M0 261.5H1529" stroke="#dfe3eb" stroke-width="1"/>
</svg>
<svg width="1529" height="283" viewBox="0 0 1529 283" style="position:absolute;left:0;top:0">
<rect x="9.5" y="14.5" width="12" height="12" rx="1.8" fill="#fff" stroke="#6f7386" stroke-width="1"/><path d="M11.3 20.5h8.6" stroke="#6f7386" stroke-width="1"/>
<path d="M32 14h12.5l-3.2 6.2l3.2 6.3h-12.5z" fill="#c3c6cf"/>
<path d="M633 18l3.5 3.6l3.5 -3.6" stroke="#222" stroke-width="1.3" fill="none"/>
<path d="M373.5 43.5l3.2 3.2l3.2 -3.2" stroke="#222" stroke-width="1.3" fill="none"/><path d="M319 67.7l3.2 3.2l3.2 -3.2" stroke="#222" stroke-width="1.3" fill="none"/>
<rect x="392" y="38" width="14" height="14" rx="2.2" fill="#bcc0cc"/><rect x="409" y="38" width="14" height="14" rx="2.2" fill="#bcc0cc"/><rect x="426" y="38" width="14" height="14" rx="2.2" fill="#bcc0cc"/><rect x="443" y="38" width="14" height="14" rx="2.2" fill="#bcc0cc"/><ellipse cx="399" cy="45" rx="5.4" ry="4" fill="#fff"/><circle cx="399" cy="45" r="2.6" fill="#bcc0cc"/><circle cx="399" cy="45" r="1.2" fill="#fff"/><rect x="414.7" y="39.7" width="2.6" height="10.6" fill="#fff" transform="rotate(0 416 45)"/><rect x="414.7" y="39.7" width="2.6" height="10.6" fill="#fff" transform="rotate(45 416 45)"/><rect x="414.7" y="39.7" width="2.6" height="10.6" fill="#fff" transform="rotate(90 416 45)"/><rect x="414.7" y="39.7" width="2.6" height="10.6" fill="#fff" transform="rotate(135 416 45)"/><circle cx="416" cy="45" r="3.9" fill="#fff"/><circle cx="416" cy="45" r="1.7" fill="#bcc0cc"/><path d="M431.8 40.2q-2 0 -2 1.8v1.6q0 1.4 -1.5 1.4q1.5 0 1.5 1.4v1.6q0 1.8 2 1.8M434.2 40.2q2 0 2 1.8v1.6q0 1.4 1.5 1.4q-1.5 0 -1.5 1.4v1.6q0 1.8 -2 1.8" stroke="#fff" stroke-width="2" fill="none"/><path d="M446 41l8 8m0-8l-8 8" stroke="#fff" stroke-width="2" fill="none"/><rect x="337" y="62" width="14" height="14" rx="2.2" fill="#bcc0cc"/><rect x="354" y="62" width="14" height="14" rx="2.2" fill="#bcc0cc"/><rect x="371" y="62" width="14" height="14" rx="2.2" fill="#bcc0cc"/><rect x="388" y="62" width="14" height="14" rx="2.2" fill="#bcc0cc"/><ellipse cx="344" cy="69" rx="5.4" ry="4" fill="#fff"/><circle cx="344" cy="69" r="2.6" fill="#bcc0cc"/><circle cx="344" cy="69" r="1.2" fill="#fff"/><rect x="359.7" y="63.7" width="2.6" height="10.6" fill="#fff" transform="rotate(0 361 69)"/><rect x="359.7" y="63.7" width="2.6" height="10.6" fill="#fff" transform="rotate(45 361 69)"/><rect x="359.7" y="63.7" width="2.6" height="10.6" fill="#fff" transform="rotate(90 361 69)"/><rect x="359.7" y="63.7" width="2.6" height="10.6" fill="#fff" transform="rotate(135 361 69)"/><circle cx="361" cy="69" r="3.9" fill="#fff"/><circle cx="361" cy="69" r="1.7" fill="#bcc0cc"/><path d="M376.8 64.2q-2 0 -2 1.8v1.6q0 1.4 -1.5 1.4q1.5 0 1.5 1.4v1.6q0 1.8 2 1.8M379.2 64.2q2 0 2 1.8v1.6q0 1.4 1.5 1.4q-1.5 0 -1.5 1.4v1.6q0 1.8 -2 1.8" stroke="#fff" stroke-width="2" fill="none"/><path d="M391 65l8 8m0-8l-8 8" stroke="#fff" stroke-width="2" fill="none"/>
<circle cx="1304.7" cy="19" r="7.6" fill="#f79a3e"/><rect x="1303.9" y="14.3" width="1.7" height="6" fill="#fff"/><rect x="1303.9" y="21.7" width="1.7" height="1.8" fill="#fff"/>
<circle cx="1321" cy="19.2" r="2.6" fill="#8a8a8a"/>
<circle cx="1446" cy="213" r="14.5" fill="#fff" stroke="#e3e6ec" stroke-width="1" filter="url(#sh)"/>
<defs><filter id="sh" x="-30%" y="-30%" width="160%" height="160%"><feDropShadow dx="0" dy="1" stdDeviation="1.5" flood-color="#000" flood-opacity="0.18"/></filter></defs>
<path d="M1439.5 208.5l4.5 4.5l-4.5 4.5M1446 208.5l4.5 4.5l-4.5 4.5" stroke="#5f7fa6" stroke-width="1.9" fill="none"/>
<circle cx="1502.5" cy="250" r="5.6" fill="none" stroke="#222" stroke-width="1.3"/>
<path d="M1502.5 242.2v2M1502.5 255.8v2M1494.7 250h2M1508.3 250h2M1497 244.5l1.4 1.4M1506.6 254.1l1.4 1.4M1497 255.5l1.4-1.4M1506.6 245.9l1.4-1.4" stroke="#222" stroke-width="1.3"/>
<path d="M139.5 270V283M1411.5 270V283" stroke="#d5d8de" stroke-width="1"/>
</svg>
<div id="topline"></div>
<span id="t1" class="t" style="left:48.6px;top:11.2px;font-size:16px;line-height:19px;height:19px;color:#000;transform:scaleX(0.9334);transform-origin:left center;-webkit-text-stroke:0.5px #000;">COFFEE FUTURES (CONTINUOUS: CURRENT CONTRACT IN FRONT)</span>
<span id="t2" class="t" style="left:546.5px;top:10.5px;font-size:16px;line-height:19px;height:19px;color:#b0b4c0;">·</span>
<span id="t3" class="t" style="left:556.0px;top:11.2px;font-size:16px;line-height:19px;height:19px;color:#000;transform:scaleX(0.8409);transform-origin:left center;-webkit-text-stroke:0.5px #000;">1D</span>
<span id="t4" class="t" style="left:578.0px;top:10.5px;font-size:16px;line-height:19px;height:19px;color:#b0b4c0;">·</span>
<span id="t5" class="t" style="left:587.3px;top:11.2px;font-size:16px;line-height:19px;height:19px;color:#000;transform:scaleX(0.8424);transform-origin:left center;-webkit-text-stroke:0.5px #000;">ICEUS</span>
<span id="t6" class="t" style="left:657.4px;top:13.7px;font-size:13px;line-height:16px;height:16px;color:#222;transform:scaleX(0.9865);transform-origin:left center;">O100.60</span>
<span id="t7" class="t" style="left:717.4px;top:13.7px;font-size:13px;line-height:16px;height:16px;color:#222;transform:scaleX(0.9887);transform-origin:left center;">H102.65</span>
<span id="t8" class="t" style="left:777.6px;top:13.7px;font-size:13px;line-height:16px;height:16px;color:#222;transform:scaleX(1.0009);transform-origin:left center;">L99.05</span>
<span id="t9" class="t" style="left:828.6px;top:13.7px;font-size:13px;line-height:16px;height:16px;color:#222;transform:scaleX(0.9756);transform-origin:left center;">C99.75</span>
<span id="t10" class="t" style="left:881.6px;top:13.7px;font-size:13px;line-height:16px;height:16px;color:#222;transform:scaleX(0.9674);transform-origin:left center;">−0.70 (−0.70%)</span>
<span id="t11" class="t" style="left:10.4px;top:38.0px;font-size:13px;line-height:16px;height:16px;color:#111;transform:scaleX(1.0415);transform-origin:left center;">TREND (14, 14, 20, 40, 10, 7, 1, 1, 50, 1, 20, W, 20, 3, 1, 1)</span>
<span id="t12" class="t" style="left:465.0px;top:38.0px;font-size:13px;line-height:16px;height:16px;color:#111;transform:scaleX(0.9481);transform-origin:left center;">101.21</span>
<span id="t13" class="t" style="left:514.5px;top:38.0px;font-size:13px;line-height:16px;height:16px;color:#111;transform:scaleX(0.9506);transform-origin:left center;">107.86</span>
<span id="t14" class="t" style="left:561.0px;top:38.0px;font-size:13px;line-height:16px;height:16px;color:#f00;transform:scaleX(0.9757);transform-origin:left center;">104.34</span>
<span id="t15" class="t" style="left:610.2px;top:38.0px;font-size:13px;line-height:16px;height:16px;color:#00f;transform:scaleX(0.9757);transform-origin:left center;">103.98</span>
<span id="t16" class="t" style="left:657.4px;top:38.0px;font-size:13px;line-height:16px;height:16px;color:#111;transform:scaleX(1.1118);transform-origin:left center;">n/a</span>
<span id="t17" class="t" style="left:686.0px;top:38.0px;font-size:13px;line-height:16px;height:16px;color:#111;transform:scaleX(1.1395);transform-origin:left center;">n/a</span>
<span id="t18" class="t" style="left:715.7px;top:38.0px;font-size:13px;line-height:16px;height:16px;color:#f00;transform:scaleX(0.9600);transform-origin:left center;">0.00</span>
<span id="t19" class="t" style="left:749.8px;top:38.0px;font-size:13px;line-height:16px;height:16px;color:#008000;transform:scaleX(0.9798);transform-origin:left center;">0.00</span>
<span id="t20" class="t" style="left:10.0px;top:62.2px;font-size:13px;line-height:16px;height:16px;color:#111;transform:scaleX(1.0560);transform-origin:left center;">futures forex (20, 5, 1, 20, 200, 300, 2, 200, 1, 10)</span>
<span id="t21" class="t" style="left:410.0px;top:62.2px;font-size:13px;line-height:16px;height:16px;color:#f00;transform:scaleX(1.1450);transform-origin:left center;">n/a</span>
<span id="t22" class="t" style="left:438.9px;top:62.2px;font-size:13px;line-height:16px;height:16px;color:#008000;transform:scaleX(1.0047);transform-origin:left center;">98.92</span>
<span id="t23" class="t" style="left:1328.0px;top:11.7px;font-size:12.5px;line-height:15px;height:15px;color:#8a8a8a;transform:scaleX(0.9864);transform-origin:left center;">Market Closed</span>
<span id="t24" class="t" style="left:1413.0px;top:11.7px;font-size:12.5px;line-height:15px;height:15px;color:#a43cbc;transform:scaleX(0.9459);transform-origin:left center;">End of Day</span>
<span id="t25" class="t" style="left:1486.3px;top:0.7px;font-size:12px;line-height:14px;height:14px;color:#111;transform:scaleX(0.9209);transform-origin:left center;">320.00</span>
<span id="t26" class="t" style="left:1486.3px;top:53.7px;font-size:12px;line-height:14px;height:14px;color:#111;transform:scaleX(0.9209);transform-origin:left center;">240.00</span>
<span id="t27" class="t" style="left:1486.3px;top:88.7px;font-size:12px;line-height:14px;height:14px;color:#111;transform:scaleX(0.9209);transform-origin:left center;">200.00</span>
<span id="t28" class="t" style="left:1486.3px;top:130.7px;font-size:12px;line-height:14px;height:14px;color:#111;transform:scaleX(0.9209);transform-origin:left center;">160.00</span>
<span id="t29" class="t" style="left:1486.3px;top:169.7px;font-size:12px;line-height:14px;height:14px;color:#111;transform:scaleX(0.9209);transform-origin:left center;">130.00</span>
<span id="t30" class="t" style="left:1486.3px;top:200.7px;font-size:12px;line-height:14px;height:14px;color:#111;transform:scaleX(0.9438);transform-origin:left center;">110.00</span>
<span id="t31" class="t" style="left:1486.3px;top:182.9px;font-size:12px;line-height:14px;height:14px;color:#fff;transform:scaleX(0.9209);transform-origin:left center;">120.60</span>
<span id="t32" class="t" style="left:99.2px;top:243.6px;font-size:12px;line-height:14px;height:14px;color:#111;font-weight:700;transform:scaleX(0.8688);transform-origin:left center;">2008</span>
<span id="t33" class="t" style="left:230.7px;top:243.6px;font-size:12px;line-height:14px;height:14px;color:#111;font-weight:700;transform:scaleX(0.8688);transform-origin:left center;">2009</span>
<span id="t34" class="t" style="left:362.3px;top:243.6px;font-size:12px;line-height:14px;height:14px;color:#111;font-weight:700;transform:scaleX(0.8688);transform-origin:left center;">2010</span>
<span id="t35" class="t" style="left:493.8px;top:243.6px;font-size:12px;line-height:14px;height:14px;color:#111;font-weight:700;transform:scaleX(0.8907);transform-origin:left center;">2011</span>
<span id="t36" class="t" style="left:625.3px;top:243.6px;font-size:12px;line-height:14px;height:14px;color:#111;font-weight:700;transform:scaleX(0.8688);transform-origin:left center;">2012</span>
<span id="t37" class="t" style="left:756.8px;top:243.6px;font-size:12px;line-height:14px;height:14px;color:#111;font-weight:700;transform:scaleX(0.8688);transform-origin:left center;">2013</span>
<span id="t38" class="t" style="left:888.4px;top:243.6px;font-size:12px;line-height:14px;height:14px;color:#111;font-weight:700;transform:scaleX(0.8688);transform-origin:left center;">2014</span>
<span id="t39" class="t" style="left:1019.9px;top:243.6px;font-size:12px;line-height:14px;height:14px;color:#111;font-weight:700;transform:scaleX(0.8688);transform-origin:left center;">2015</span>
<span id="t40" class="t" style="left:1151.4px;top:243.6px;font-size:12px;line-height:14px;height:14px;color:#111;font-weight:700;transform:scaleX(0.8688);transform-origin:left center;">2016</span>
<span id="t41" class="t" style="left:1282.9px;top:243.6px;font-size:12px;line-height:14px;height:14px;color:#111;font-weight:700;transform:scaleX(0.8688);transform-origin:left center;">2017</span>
<span id="t42" class="t" style="left:1414.5px;top:243.6px;font-size:12px;line-height:14px;height:14px;color:#111;font-weight:700;transform:scaleX(0.8688);transform-origin:left center;">2018</span>
<span id="t43" class="t" style="left:-9.5px;top:243.4px;font-size:12px;line-height:14px;height:14px;color:#111;font-weight:700;transform:scaleX(0.9605);transform-origin:left center;">Mar</span>
<span id="t44" class="t" style="left:13.0px;top:273.3px;font-size:13px;line-height:16px;height:16px;color:#444;transform:scaleX(0.9231);transform-origin:left center;">YTD</span>
<span id="t45" class="t" style="left:52.0px;top:273.3px;font-size:13px;line-height:16px;height:16px;color:#444;transform:scaleX(0.8173);transform-origin:left center;">1Y</span>
<span id="t46" class="t" style="left:80.0px;top:273.3px;font-size:13px;line-height:16px;height:16px;color:#444;transform:scaleX(0.8173);transform-origin:left center;">5Y</span>
<span id="t47" class="t" style="left:108.0px;top:273.3px;font-size:13px;line-height:16px;height:16px;color:#444;transform:scaleX(1.0032);transform-origin:left center;">All</span>
<span id="t48" class="t" style="left:155.0px;top:273.3px;font-size:13px;line-height:16px;height:16px;color:#444;transform:scaleX(0.9850);transform-origin:left center;">Go to...</span>
<span id="t49" class="t" style="left:1290.6px;top:273.3px;font-size:13px;line-height:16px;height:16px;color:#444;transform:scaleX(0.9902);transform-origin:left center;">14:17:25 (UTC+9)</span>
<span id="t50" class="t" style="left:1429.0px;top:273.3px;font-size:13px;line-height:16px;height:16px;color:#444;transform:scaleX(0.8216);transform-origin:left center;">%</span>
<span id="t51" class="t" style="left:1455.0px;top:273.3px;font-size:13px;line-height:16px;height:16px;color:#3a98e0;transform:scaleX(1.0830);transform-origin:left center;">log</span>
<span id="t52" class="t" style="left:1489.0px;top:273.3px;font-size:13px;line-height:16px;height:16px;color:#3a98e0;transform:scaleX(1.0667);transform-origin:left center;">auto</span>
<div id="topbox"><i style="left:14px"></i><i style="left:53px"></i><i style="left:92px"></i><i style="left:131px"></i><i style="left:170px"></i><i style="left:209px"></i><i style="left:248px"></i><i style="left:287px"></i><i style="left:326px"></i><i style="left:365px"></i><i style="left:404px"></i><i style="left:443px"></i><i style="left:482px"></i></div>
</div>
<div id="panel">
<div id="tabs"><b style="left:131px"></b><b style="left:232px"></b><b style="left:335px"></b><b style="left:464px"></b><b style="left:579px"></b><b style="left:1440px;background:#f0f1f4"></b></div>
<div id="act"></div>
<div id="hdr"></div><div id="ovl"></div><div id="redge"></div>
</div>
<svg width="1529" height="130" viewBox="0 283 1529 130" style="position:absolute;left:0;top:283px">
<path d="M118.8 300.5l3.5 3.6l3.5 -3.6" stroke="#444" stroke-width="1.2" fill="none"/>
<path d="M1460 308.5h14" stroke="#262b3e" stroke-width="1.2"/>
<rect x="1494.6" y="294.8" width="17" height="15" rx="2.5" fill="none" stroke="#262b3e" stroke-width="1.2"/><path d="M1494.6 297.8h17" stroke="#262b3e" stroke-width="1.2"/>
<path d="M92 341.2h9.5l-4.75 5z" fill="#8a8a8a"/>
<g transform="translate(123.5,343.6)" stroke="#555" fill="none"><circle r="4.2" stroke-width="1.3"/><path d="M0 -6.6v2.2M0 6.6v-2.2M-6.6 0h2.2M6.6 0h-2.2M-4.7 -4.7l1.6 1.6M4.7 4.7l-1.6-1.6M-4.7 4.7l1.6-1.6M4.7 -4.7l-1.6 1.6" stroke-width="1.9"/></g>
</svg>
<svg width="1529" height="482" viewBox="0 420 1529 482" style="position:absolute;left:0;top:420px">
<path d="M353.5 433V868M656.5 433V868M960.5 433V868M1263.5 433V868" stroke="#d8d8d8" stroke-width="1" stroke-dasharray="6 4" fill="none"/>
<path d="M50 433.2L50 433.9L80.3 485.8L110.6 512.4L141 517.2L171.3 564.8L201.6 593.5L231.9 620L262.2 619.2L292.6 641.7L322.9 662.9L353.2 669.1L383.5 677.1L413.8 689.6L444.1 604.5L474.5 615L504.8 616.2L535.1 618.7L565.4 637.2L595.7 642.2L626.1 655.4L656.4 668.4L686.7 458.3L717 470.8L747.3 433.6L777.7 447.6L808 495L838.3 505.5L868.6 577.1L898.9 572L929.3 579L959.6 599.7L989.9 602.8L1020.2 611.6L1050.5 544.8L1080.9 572.5L1111.2 578.3L1141.5 598.4L1171.8 611.7L1202.1 604.5L1232.4 618.7L1262.8 576.5L1293.1 606.2L1323.4 433.2L1353.7 433.2L1384 433.2L1414.4 445L1444.7 459.9L1475 466.2L1475 433.2Z" fill="#f7e2db" fill-opacity="0.93"/>
<path d="M50 433.9L80.3 485.8L110.6 512.4L141 517.2L171.3 564.8L201.6 593.5L231.9 620L262.2 619.2L292.6 641.7L322.9 662.9L353.2 669.1L383.5 677.1L413.8 689.6L444.1 604.5L474.5 615L504.8 616.2L535.1 618.7L565.4 637.2L595.7 642.2L626.1 655.4L656.4 668.4L686.7 458.3L717 470.8L747.3 433.6L777.7 447.6L808 495L838.3 505.5L868.6 577.1L898.9 572L929.3 579L959.6 599.7L989.9 602.8L1020.2 611.6L1050.5 544.8L1080.9 572.5L1111.2 578.3L1141.5 598.4L1171.8 611.7L1202.1 604.5L1232.4 618.7L1262.8 576.5L1293.1 606.2L1323.4 433.2L1353.7 433.2L1384 433.2L1414.4 445L1444.7 459.9L1475 466.2" fill="none" stroke="#e2735c" stroke-width="1.1" stroke-linejoin="round"/>
<path d="M50 868.5L50 587.7L80.3 639.6L110.6 666.2L141 671L171.3 718.6L201.6 747.3L231.9 773.8L262.2 773L292.6 795.5L322.9 816.7L353.2 822.9L383.5 830.9L413.8 843.4L444.1 758.3L474.5 768.8L504.8 770L535.1 772.5L565.4 791L595.7 796L626.1 809.2L656.4 822.2L686.7 612.1L717 624.6L747.3 575.2L777.7 589.2L808 636.6L838.3 647.1L868.6 718.7L898.9 713.6L929.3 720.6L959.6 741.3L989.9 744.4L1020.2 753.2L1050.5 686.4L1080.9 714.1L1111.2 719.9L1141.5 740L1171.8 753.3L1202.1 746.1L1232.4 760.3L1262.8 718.1L1293.1 747.8L1323.4 511.1L1353.7 436L1384 433.2L1414.4 445L1444.7 459.9L1475 466.2L1475 868.5Z" fill="#bde2fd" fill-opacity="0.93"/>
<path d="M50 587.7L80.3 639.6L110.6 666.2L141 671L171.3 718.6L201.6 747.3L231.9 773.8L262.2 773L292.6 795.5L322.9 816.7L353.2 822.9L383.5 830.9L413.8 843.4L444.1 758.3L474.5 768.8L504.8 770L535.1 772.5L565.4 791L595.7 796L626.1 809.2L656.4 822.2L686.7 612.1L717 624.6L747.3 575.2L777.7 589.2L808 636.6L838.3 647.1L868.6 718.7L898.9 713.6L929.3 720.6L959.6 741.3L989.9 744.4L1020.2 753.2L1050.5 686.4L1080.9 714.1L1111.2 719.9L1141.5 740L1171.8 753.3L1202.1 746.1L1232.4 760.3L1262.8 718.1L1293.1 747.8L1323.4 511.1L1353.7 436L1384 433.2L1414.4 445L1444.7 459.9L1475 466.2" fill="none" stroke="#5cb4f2" stroke-width="1.1" stroke-linejoin="round"/>
<path d="M50 766.8L80.3 789.7L110.6 770.8L141 820.7L171.3 820.4L201.6 820.2L231.9 813.9L262.2 808.7L292.6 808.9L322.9 806.4L353.2 805.9L383.5 807.4L413.8 810.4L444.1 779.5L474.5 815.2L504.8 815.7L535.1 835.9L565.4 845.1L595.7 843.6L626.1 845.6L656.4 863.6L686.7 792.5L717 824.7L747.3 800.4L777.7 830.4L808 839.6L838.3 834.6L868.6 838.4L898.9 868.6L929.3 867.8L959.6 866.6L989.9 866L1020.2 865.4L1050.5 840.4L1080.9 834.1L1111.2 830.1L1141.5 834.1L1171.8 835.9L1202.1 830.1L1232.4 830.4L1262.8 814.7L1293.1 820.2L1323.4 739.1L1353.7 787.2L1384 806.7L1414.4 824.7L1444.7 826.9L1475 825.4" fill="none" stroke="#7f8792" stroke-width="1.2" stroke-linejoin="round"/>
<path d="M50 848.5H1475" stroke="#5e6873" stroke-opacity="0.85" stroke-width="1" stroke-dasharray="5.5 5.5"/>
<path d="M50 868.5H1475" stroke="#555" stroke-width="1.3"/>
<path d="M353.5 868v4M656.5 868v4M960.5 868v4M1263.5 868v4" stroke="#555" stroke-width="1"/>
<rect x="607" y="887.8" width="12" height="12" fill="#e2735c"/>
<rect x="690" y="887.8" width="12" height="12" fill="#5cb4f2"/>
<rect x="755.5" y="888.3" width="11" height="11" fill="#fff" stroke="#6f7888" stroke-width="1"/>
<path d="M912.3 893h5.6l-2.8 2.7z" fill="#555"/>
</svg>
<span id="t53" class="t" style="left:13.0px;top:293.8px;font-size:14.5px;line-height:17px;height:17px;color:#1c2030;transform:scaleX(0.9542);transform-origin:left center;">Stock Screener</span>
<span id="t54" class="t" style="left:148.0px;top:293.8px;font-size:14.5px;line-height:17px;height:17px;color:#1c2030;transform:scaleX(0.9869);transform-origin:left center;">Text Notes</span>
<span id="t55" class="t" style="left:249.2px;top:293.8px;font-size:14.5px;line-height:17px;height:17px;color:#1c2030;transform:scaleX(0.9797);transform-origin:left center;">Pine Editor</span>
<span id="t56" class="t" style="left:352.2px;top:293.8px;font-size:14.5px;line-height:17px;height:17px;color:#3392e6;transform:scaleX(0.9829);transform-origin:left center;">Strategy Tester</span>
<span id="t57" class="t" style="left:481.3px;top:293.8px;font-size:14.5px;line-height:17px;height:17px;color:#1c2030;transform:scaleX(0.9092);transform-origin:left center;">Trading Panel</span>
<span id="t58" class="t" style="left:11.0px;top:335.8px;font-size:13px;line-height:16px;height:16px;color:#222;transform:scaleX(1.0240);transform-origin:left center;">futures forex</span>
<span id="t59" class="t" style="left:1194.2px;top:335.5px;font-size:12.5px;line-height:15px;height:15px;color:#3392e6;transform:scaleX(0.9560);transform-origin:left center;">Overview</span>
<span id="t60" class="t" style="left:1278.5px;top:335.5px;font-size:12.5px;line-height:15px;height:15px;color:#444;transform:scaleX(0.9454);transform-origin:left center;">Performance Summary</span>
<span id="t61" class="t" style="left:1435.0px;top:335.5px;font-size:12.5px;line-height:15px;height:15px;color:#444;transform:scaleX(0.9727);transform-origin:left center;">List of Trades</span>
<span id="t62" class="t" style="left:50.2px;top:374.6px;font-size:13.5px;line-height:16px;height:16px;color:#444;font-weight:700;transform:scaleX(1.0566);transform-origin:left center;">$ 60881.25</span>
<span id="t63" class="t" style="left:50.2px;top:393.1px;font-size:11px;line-height:13px;height:13px;color:#444;transform:scaleX(0.9358);transform-origin:left center;">608.81 %</span>
<span id="t64" class="t" style="left:50.2px;top:405.7px;font-size:11px;line-height:13px;height:13px;color:#999;transform:scaleX(1.0445);transform-origin:left center;">Net Profit</span>
<span id="t65" class="t" style="left:264.2px;top:374.6px;font-size:13.5px;line-height:16px;height:16px;color:#444;font-weight:700;transform:scaleX(1.0112);transform-origin:left center;">48</span>
<span id="t66" class="t" style="left:264.2px;top:405.7px;font-size:11px;line-height:13px;height:13px;color:#999;transform:scaleX(0.9689);transform-origin:left center;">Total Closed Trades</span>
<span id="t67" class="t" style="left:478.8px;top:374.6px;font-size:13.5px;line-height:16px;height:16px;color:#444;font-weight:700;transform:scaleX(0.9421);transform-origin:left center;">25 %</span>
<span id="t68" class="t" style="left:478.8px;top:405.7px;font-size:11px;line-height:13px;height:13px;color:#999;transform:scaleX(1.0190);transform-origin:left center;">Percent Profitable</span>
<span id="t69" class="t" style="left:692.0px;top:374.6px;font-size:13.5px;line-height:16px;height:16px;color:#444;font-weight:700;transform:scaleX(1.0652);transform-origin:left center;">1.577</span>
<span id="t70" class="t" style="left:692.0px;top:405.7px;font-size:11px;line-height:13px;height:13px;color:#999;transform:scaleX(1.0600);transform-origin:left center;">Profit Factor</span>
<span id="t71" class="t" style="left:905.5px;top:374.6px;font-size:13.5px;line-height:16px;height:16px;color:#d9400f;font-weight:700;transform:scaleX(1.0506);transform-origin:left center;">$ 40818.75</span>
<span id="t72" class="t" style="left:905.5px;top:393.1px;font-size:11px;line-height:13px;height:13px;color:#d9400f;transform:scaleX(0.9164);transform-origin:left center;">79.07 %</span>
<span id="t73" class="t" style="left:905.5px;top:405.7px;font-size:11px;line-height:13px;height:13px;color:#999;transform:scaleX(0.9761);transform-origin:left center;">Max Drawdown</span>
<span id="t74" class="t" style="left:1120.0px;top:374.6px;font-size:13.5px;line-height:16px;height:16px;color:#444;font-weight:700;transform:scaleX(1.0489);transform-origin:left center;">$ 1268.36</span>
<span id="t75" class="t" style="left:1120.0px;top:393.1px;font-size:11px;line-height:13px;height:13px;color:#444;transform:scaleX(0.9164);transform-origin:left center;">12.68 %</span>
<span id="t76" class="t" style="left:1120.0px;top:405.7px;font-size:11px;line-height:13px;height:13px;color:#999;transform:scaleX(0.9409);transform-origin:left center;">Avg Trade</span>
<span id="t77" class="t" style="left:1334.0px;top:374.6px;font-size:13.5px;line-height:16px;height:16px;color:#444;font-weight:700;transform:scaleX(0.9647);transform-origin:left center;">90</span>
<span id="t78" class="t" style="left:1334.0px;top:405.7px;font-size:11px;line-height:13px;height:13px;color:#999;transform:scaleX(0.9617);transform-origin:left center;">Avg # Bars in Trades</span>
<span id="t79" class="t" style="right:1482.0px;top:466.4px;font-size:9.4px;line-height:11px;height:11px;color:#33a1f2;transform:scaleX(0.9587);transform-origin:right center;-webkit-text-stroke:0.25px #33a1f2;">60000</span>
<span id="t80" class="t" style="right:1482.0px;top:529.4px;font-size:9.4px;line-height:11px;height:11px;color:#33a1f2;transform:scaleX(0.9587);transform-origin:right center;-webkit-text-stroke:0.25px #33a1f2;">50000</span>
<span id="t81" class="t" style="right:1482.0px;top:592.4px;font-size:9.4px;line-height:11px;height:11px;color:#33a1f2;transform:scaleX(0.9587);transform-origin:right center;-webkit-text-stroke:0.25px #33a1f2;">40000</span>
<span id="t82" class="t" style="right:1482.0px;top:655.4px;font-size:9.4px;line-height:11px;height:11px;color:#33a1f2;transform:scaleX(0.9587);transform-origin:right center;-webkit-text-stroke:0.25px #33a1f2;">30000</span>
<span id="t83" class="t" style="right:1482.0px;top:718.4px;font-size:9.4px;line-height:11px;height:11px;color:#33a1f2;transform:scaleX(0.9587);transform-origin:right center;-webkit-text-stroke:0.25px #33a1f2;">20000</span>
<span id="t84" class="t" style="right:1482.0px;top:781.4px;font-size:9.4px;line-height:11px;height:11px;color:#33a1f2;transform:scaleX(0.9587);transform-origin:right center;-webkit-text-stroke:0.25px #33a1f2;">10000</span>
<span id="t85" class="t" style="right:1482.0px;top:843.4px;font-size:9.4px;line-height:11px;height:11px;color:#33a1f2;transform:scaleX(0.9581);transform-origin:right center;-webkit-text-stroke:0.25px #33a1f2;">0</span>
<span id="t86" class="t" style="left:1480.3px;top:433.5px;font-size:9.4px;line-height:11px;height:11px;color:#e0694f;transform:scaleX(0.9389);transform-origin:left center;-webkit-text-stroke:0.2px #e0694f;">0</span>
<span id="t87" class="t" style="left:1480.3px;top:491.5px;font-size:9.4px;line-height:11px;height:11px;color:#e0694f;transform:scaleX(0.9793);transform-origin:left center;-webkit-text-stroke:0.2px #e0694f;">-10000</span>
<span id="t88" class="t" style="left:1480.3px;top:554.5px;font-size:9.4px;line-height:11px;height:11px;color:#e0694f;transform:scaleX(0.9793);transform-origin:left center;-webkit-text-stroke:0.2px #e0694f;">-20000</span>
<span id="t89" class="t" style="left:1480.3px;top:617.5px;font-size:9.4px;line-height:11px;height:11px;color:#e0694f;transform:scaleX(0.9793);transform-origin:left center;-webkit-text-stroke:0.2px #e0694f;">-30000</span>
<span id="t90" class="t" style="left:1480.3px;top:679.5px;font-size:9.4px;line-height:11px;height:11px;color:#e0694f;transform:scaleX(0.9793);transform-origin:left center;-webkit-text-stroke:0.2px #e0694f;">-40000</span>
<span id="t91" class="t" style="left:1480.3px;top:742.5px;font-size:9.4px;line-height:11px;height:11px;color:#e0694f;transform:scaleX(0.9793);transform-origin:left center;-webkit-text-stroke:0.2px #e0694f;">-50000</span>
<span id="t92" class="t" style="left:1480.3px;top:805.5px;font-size:9.4px;line-height:11px;height:11px;color:#e0694f;transform:scaleX(0.9793);transform-origin:left center;-webkit-text-stroke:0.2px #e0694f;">-60000</span>
<span id="t93" class="t" style="left:348.3px;top:870.8px;font-size:10.5px;line-height:13px;height:13px;color:#6d7078;font-weight:700;transform:scaleX(0.9070);transform-origin:left center;">10</span>
<span id="t94" class="t" style="left:651.3px;top:870.8px;font-size:10.5px;line-height:13px;height:13px;color:#6d7078;font-weight:700;transform:scaleX(0.9069);transform-origin:left center;">20</span>
<span id="t95" class="t" style="left:954.3px;top:870.8px;font-size:10.5px;line-height:13px;height:13px;color:#6d7078;font-weight:700;transform:scaleX(0.9069);transform-origin:left center;">30</span>
<span id="t96" class="t" style="left:1257.3px;top:870.8px;font-size:10.5px;line-height:13px;height:13px;color:#6d7078;font-weight:700;transform:scaleX(0.9069);transform-origin:left center;">40</span>
<span id="t97" class="t" style="left:624.0px;top:887.1px;font-size:10.5px;line-height:13px;height:13px;color:#555;transform:scaleX(0.9272);transform-origin:left center;">Drawdown</span>
<span id="t98" class="t" style="left:707.0px;top:887.1px;font-size:10.5px;line-height:13px;height:13px;color:#555;transform:scaleX(0.9593);transform-origin:left center;">Equity</span>
<span id="t99" class="t" style="left:772.0px;top:887.1px;font-size:10.5px;line-height:13px;height:13px;color:#555;transform:scaleX(0.9334);transform-origin:left center;">Buy &amp; Hold Equity</span>
<span id="t100" class="t" style="left:871.0px;top:887.1px;font-size:10.5px;line-height:13px;height:13px;color:#555;transform:scaleX(0.9297);transform-origin:left center;">Absolute</span>
</body></html>
